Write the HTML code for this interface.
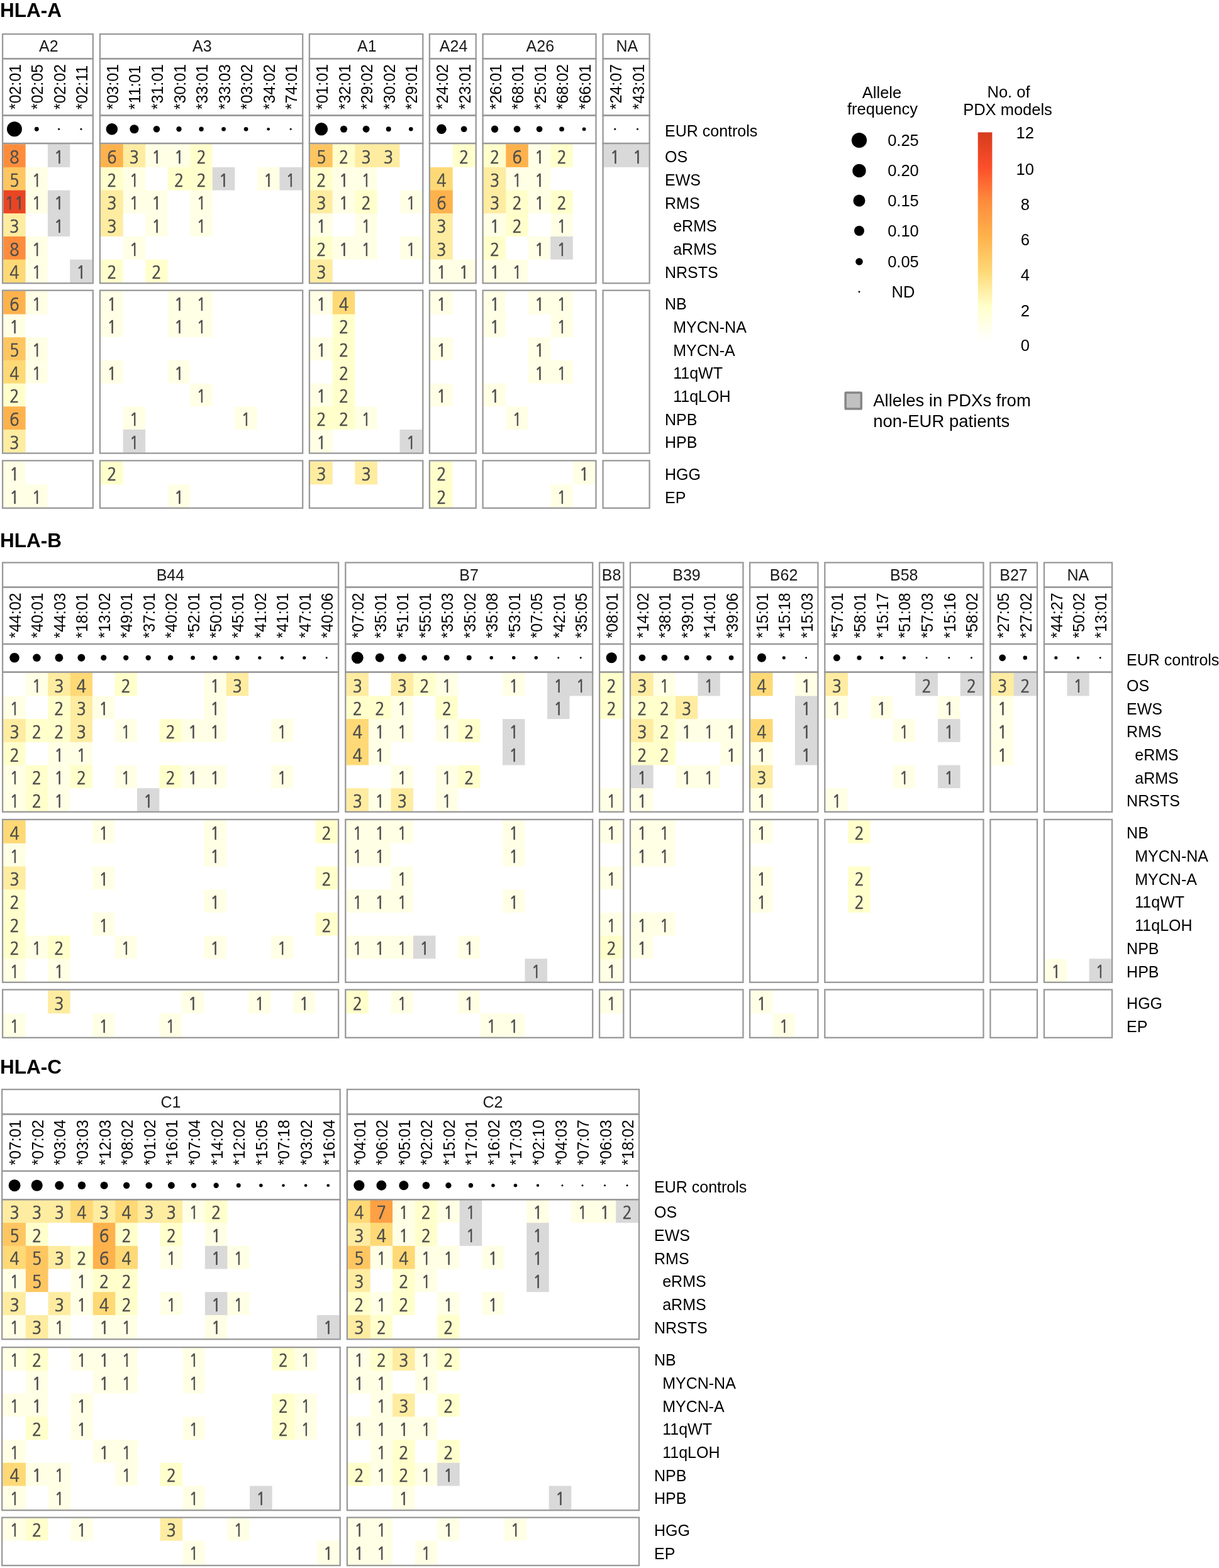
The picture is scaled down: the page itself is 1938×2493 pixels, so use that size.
<!DOCTYPE html>
<html lang="en">
<head>
<meta charset="utf-8">
<title>HLA allele distribution in PDX models</title>
<style>
html,body{margin:0;padding:0;background:#fff;}
body{width:1938px;height:2493px;overflow:hidden;}
svg{display:block;font-family:"Liberation Sans",sans-serif;}
.ttl{font-weight:bold;font-size:31.5px;fill:#000;}
.bx rect{fill:none;stroke:#999999;stroke-width:2.3;}
.num text{font-family:"NanumGothic","Liberation Sans",sans-serif;font-size:27.8px;fill:#4d4d4d;stroke:#4d4d4d;stroke-width:0.7px;text-anchor:middle;}
.hd text{font-size:25px;fill:#1a1a1a;text-anchor:middle;}
.al text{font-size:25px;fill:#000;}
.rl text{font-size:25px;fill:#000;}
.dt circle{fill:#000;}
.lg text{font-size:25.5px;fill:#000;}
.lg text.c{text-anchor:middle;}
.lg text.big{font-size:27.5px;}
</style>
</head>
<body>
<svg width="1938" height="2493" viewBox="0 0 1938 2493">
<defs><linearGradient id="cb" x1="0" y1="0" x2="0" y2="1"><stop offset="0%" stop-color="#d63c1e"/><stop offset="16.67%" stop-color="#fc4e2a"/><stop offset="33.33%" stop-color="#fd8d3c"/><stop offset="50%" stop-color="#feb24c"/><stop offset="66.67%" stop-color="#fed976"/><stop offset="83.33%" stop-color="#ffffcc"/><stop offset="100%" stop-color="#ffffff"/></linearGradient></defs>
<rect x="0" y="0" width="1938" height="2493" fill="#ffffff"/>
<g>
<text class="ttl" x="0" y="26.9">HLA-A</text>
<rect x="5.3" y="229.2" width="35.33" height="37.38" fill="#fd8d3c"/>
<rect x="75.95" y="229.2" width="35.33" height="36.68" fill="#d9d9d9"/>
<rect x="5.3" y="265.88" width="36.03" height="37.38" fill="#fec661"/>
<rect x="40.62" y="265.88" width="35.33" height="37.38" fill="#ffffe6"/>
<rect x="5.3" y="302.56" width="36.03" height="37.38" fill="#e94524"/>
<rect x="40.62" y="302.56" width="36.03" height="36.68" fill="#ffffe6"/>
<rect x="75.95" y="302.56" width="35.33" height="37.38" fill="#d9d9d9"/>
<rect x="5.3" y="339.24" width="35.33" height="37.38" fill="#feeca1"/>
<rect x="75.95" y="339.24" width="35.33" height="36.68" fill="#d9d9d9"/>
<rect x="5.3" y="375.92" width="36.03" height="37.38" fill="#fd8d3c"/>
<rect x="40.62" y="375.92" width="35.33" height="37.38" fill="#ffffe6"/>
<rect x="5.3" y="412.6" width="36.03" height="36.7" fill="#fed976"/>
<rect x="40.62" y="412.6" width="35.33" height="36.7" fill="#ffffe6"/>
<rect x="111.28" y="412.6" width="35.33" height="36.7" fill="#d9d9d9"/>
<rect x="5.3" y="462.9" width="36.03" height="37.38" fill="#feb24c"/>
<rect x="40.62" y="462.9" width="35.33" height="36.68" fill="#ffffe6"/>
<rect x="5.3" y="499.58" width="35.33" height="37.38" fill="#ffffe6"/>
<rect x="5.3" y="536.26" width="36.03" height="37.38" fill="#fec661"/>
<rect x="40.62" y="536.26" width="35.33" height="37.38" fill="#ffffe6"/>
<rect x="5.3" y="572.94" width="36.03" height="37.38" fill="#fed976"/>
<rect x="40.62" y="572.94" width="35.33" height="36.68" fill="#ffffe6"/>
<rect x="5.3" y="609.62" width="35.33" height="37.38" fill="#ffffcc"/>
<rect x="5.3" y="646.3" width="35.33" height="37.38" fill="#feb24c"/>
<rect x="5.3" y="682.98" width="35.33" height="36.68" fill="#feeca1"/>
<rect x="5.3" y="733.6" width="35.33" height="37.38" fill="#ffffe6"/>
<rect x="5.3" y="770.28" width="36.03" height="36.68" fill="#ffffe6"/>
<rect x="40.62" y="770.28" width="35.33" height="36.68" fill="#ffffe6"/>
<rect x="160.1" y="229.2" width="36.24" height="37.38" fill="#feb24c"/>
<rect x="195.64" y="229.2" width="36.24" height="37.38" fill="#feeca1"/>
<rect x="231.19" y="229.2" width="36.24" height="36.68" fill="#ffffe6"/>
<rect x="266.73" y="229.2" width="36.24" height="37.38" fill="#ffffe6"/>
<rect x="302.28" y="229.2" width="35.54" height="37.38" fill="#ffffcc"/>
<rect x="160.1" y="265.88" width="36.24" height="37.38" fill="#ffffcc"/>
<rect x="195.64" y="265.88" width="35.54" height="37.38" fill="#ffffe6"/>
<rect x="266.73" y="265.88" width="36.24" height="36.68" fill="#ffffcc"/>
<rect x="302.28" y="265.88" width="36.24" height="37.38" fill="#ffffcc"/>
<rect x="337.82" y="265.88" width="35.54" height="36.68" fill="#d9d9d9"/>
<rect x="408.91" y="265.88" width="36.24" height="36.68" fill="#ffffe6"/>
<rect x="444.46" y="265.88" width="35.54" height="36.68" fill="#d9d9d9"/>
<rect x="160.1" y="302.56" width="36.24" height="37.38" fill="#feeca1"/>
<rect x="195.64" y="302.56" width="36.24" height="36.68" fill="#ffffe6"/>
<rect x="231.19" y="302.56" width="35.54" height="37.38" fill="#ffffe6"/>
<rect x="302.28" y="302.56" width="35.54" height="37.38" fill="#ffffe6"/>
<rect x="160.1" y="339.24" width="35.54" height="36.68" fill="#feeca1"/>
<rect x="231.19" y="339.24" width="35.54" height="36.68" fill="#ffffe6"/>
<rect x="302.28" y="339.24" width="35.54" height="36.68" fill="#ffffe6"/>
<rect x="195.64" y="375.92" width="35.54" height="36.68" fill="#ffffe6"/>
<rect x="160.1" y="412.6" width="35.54" height="36.7" fill="#ffffcc"/>
<rect x="231.19" y="412.6" width="35.54" height="36.7" fill="#ffffcc"/>
<rect x="160.1" y="462.9" width="35.54" height="37.38" fill="#ffffe6"/>
<rect x="266.73" y="462.9" width="36.24" height="37.38" fill="#ffffe6"/>
<rect x="302.28" y="462.9" width="35.54" height="37.38" fill="#ffffe6"/>
<rect x="160.1" y="499.58" width="35.54" height="36.68" fill="#ffffe6"/>
<rect x="266.73" y="499.58" width="36.24" height="36.68" fill="#ffffe6"/>
<rect x="302.28" y="499.58" width="35.54" height="36.68" fill="#ffffe6"/>
<rect x="160.1" y="572.94" width="35.54" height="36.68" fill="#ffffe6"/>
<rect x="266.73" y="572.94" width="35.54" height="36.68" fill="#ffffe6"/>
<rect x="302.28" y="609.62" width="35.54" height="36.68" fill="#ffffe6"/>
<rect x="195.64" y="646.3" width="35.54" height="37.38" fill="#ffffe6"/>
<rect x="373.37" y="646.3" width="35.54" height="36.68" fill="#ffffe6"/>
<rect x="195.64" y="682.98" width="35.54" height="36.68" fill="#d9d9d9"/>
<rect x="160.1" y="733.6" width="35.54" height="36.68" fill="#ffffcc"/>
<rect x="266.73" y="770.28" width="35.54" height="36.68" fill="#ffffe6"/>
<rect x="493.1" y="229.2" width="36.3" height="37.38" fill="#fec661"/>
<rect x="528.7" y="229.2" width="36.3" height="37.38" fill="#ffffcc"/>
<rect x="564.3" y="229.2" width="36.3" height="37.38" fill="#feeca1"/>
<rect x="599.9" y="229.2" width="35.6" height="36.68" fill="#feeca1"/>
<rect x="493.1" y="265.88" width="36.3" height="37.38" fill="#ffffcc"/>
<rect x="528.7" y="265.88" width="36.3" height="37.38" fill="#ffffe6"/>
<rect x="564.3" y="265.88" width="35.6" height="37.38" fill="#ffffe6"/>
<rect x="493.1" y="302.56" width="36.3" height="37.38" fill="#feeca1"/>
<rect x="528.7" y="302.56" width="36.3" height="36.68" fill="#ffffe6"/>
<rect x="564.3" y="302.56" width="35.6" height="37.38" fill="#ffffcc"/>
<rect x="635.5" y="302.56" width="35.6" height="36.68" fill="#ffffe6"/>
<rect x="493.1" y="339.24" width="35.6" height="37.38" fill="#ffffe6"/>
<rect x="564.3" y="339.24" width="35.6" height="37.38" fill="#ffffe6"/>
<rect x="493.1" y="375.92" width="36.3" height="37.38" fill="#ffffcc"/>
<rect x="528.7" y="375.92" width="36.3" height="36.68" fill="#ffffe6"/>
<rect x="564.3" y="375.92" width="35.6" height="36.68" fill="#ffffe6"/>
<rect x="635.5" y="375.92" width="35.6" height="36.68" fill="#ffffe6"/>
<rect x="493.1" y="412.6" width="35.6" height="36.7" fill="#feeca1"/>
<rect x="493.1" y="462.9" width="36.3" height="36.68" fill="#ffffe6"/>
<rect x="528.7" y="462.9" width="35.6" height="37.38" fill="#fed976"/>
<rect x="528.7" y="499.58" width="35.6" height="37.38" fill="#ffffcc"/>
<rect x="493.1" y="536.26" width="36.3" height="36.68" fill="#ffffe6"/>
<rect x="528.7" y="536.26" width="35.6" height="37.38" fill="#ffffcc"/>
<rect x="528.7" y="572.94" width="35.6" height="37.38" fill="#ffffcc"/>
<rect x="493.1" y="609.62" width="36.3" height="37.38" fill="#ffffe6"/>
<rect x="528.7" y="609.62" width="35.6" height="37.38" fill="#ffffcc"/>
<rect x="493.1" y="646.3" width="36.3" height="37.38" fill="#ffffcc"/>
<rect x="528.7" y="646.3" width="36.3" height="36.68" fill="#ffffcc"/>
<rect x="564.3" y="646.3" width="35.6" height="36.68" fill="#ffffe6"/>
<rect x="493.1" y="682.98" width="35.6" height="36.68" fill="#ffffe6"/>
<rect x="635.5" y="682.98" width="35.6" height="36.68" fill="#d9d9d9"/>
<rect x="493.1" y="733.6" width="35.6" height="36.68" fill="#feeca1"/>
<rect x="564.3" y="733.6" width="35.6" height="36.68" fill="#feeca1"/>
<rect x="719.8" y="229.2" width="35.7" height="36.68" fill="#ffffcc"/>
<rect x="684.1" y="265.88" width="35.7" height="37.38" fill="#fed976"/>
<rect x="684.1" y="302.56" width="35.7" height="37.38" fill="#feb24c"/>
<rect x="684.1" y="339.24" width="35.7" height="37.38" fill="#feeca1"/>
<rect x="684.1" y="375.92" width="35.7" height="37.38" fill="#feeca1"/>
<rect x="684.1" y="412.6" width="36.4" height="36.7" fill="#ffffe6"/>
<rect x="719.8" y="412.6" width="35.7" height="36.7" fill="#ffffe6"/>
<rect x="684.1" y="462.9" width="35.7" height="36.68" fill="#ffffe6"/>
<rect x="684.1" y="536.26" width="35.7" height="36.68" fill="#ffffe6"/>
<rect x="684.1" y="609.62" width="35.7" height="36.68" fill="#ffffe6"/>
<rect x="684.1" y="733.6" width="35.7" height="37.38" fill="#ffffcc"/>
<rect x="684.1" y="770.28" width="35.7" height="36.68" fill="#ffffcc"/>
<rect x="768.8" y="229.2" width="36.2" height="37.38" fill="#ffffcc"/>
<rect x="804.3" y="229.2" width="36.2" height="37.38" fill="#feb24c"/>
<rect x="839.8" y="229.2" width="36.2" height="37.38" fill="#ffffe6"/>
<rect x="875.3" y="229.2" width="35.5" height="36.68" fill="#ffffcc"/>
<rect x="768.8" y="265.88" width="36.2" height="37.38" fill="#feeca1"/>
<rect x="804.3" y="265.88" width="36.2" height="37.38" fill="#ffffe6"/>
<rect x="839.8" y="265.88" width="35.5" height="37.38" fill="#ffffe6"/>
<rect x="768.8" y="302.56" width="36.2" height="37.38" fill="#feeca1"/>
<rect x="804.3" y="302.56" width="36.2" height="37.38" fill="#ffffcc"/>
<rect x="839.8" y="302.56" width="36.2" height="36.68" fill="#ffffe6"/>
<rect x="875.3" y="302.56" width="35.5" height="37.38" fill="#ffffcc"/>
<rect x="768.8" y="339.24" width="36.2" height="37.38" fill="#ffffe6"/>
<rect x="804.3" y="339.24" width="35.5" height="36.68" fill="#ffffcc"/>
<rect x="875.3" y="339.24" width="35.5" height="37.38" fill="#ffffe6"/>
<rect x="768.8" y="375.92" width="35.5" height="37.38" fill="#ffffcc"/>
<rect x="839.8" y="375.92" width="36.2" height="36.68" fill="#ffffe6"/>
<rect x="875.3" y="375.92" width="35.5" height="36.68" fill="#d9d9d9"/>
<rect x="768.8" y="412.6" width="36.2" height="36.7" fill="#ffffe6"/>
<rect x="804.3" y="412.6" width="35.5" height="36.7" fill="#ffffe6"/>
<rect x="768.8" y="462.9" width="35.5" height="37.38" fill="#ffffe6"/>
<rect x="839.8" y="462.9" width="36.2" height="36.68" fill="#ffffe6"/>
<rect x="875.3" y="462.9" width="35.5" height="37.38" fill="#ffffe6"/>
<rect x="768.8" y="499.58" width="35.5" height="36.68" fill="#ffffe6"/>
<rect x="875.3" y="499.58" width="35.5" height="36.68" fill="#ffffe6"/>
<rect x="839.8" y="536.26" width="35.5" height="37.38" fill="#ffffe6"/>
<rect x="839.8" y="572.94" width="36.2" height="36.68" fill="#ffffe6"/>
<rect x="875.3" y="572.94" width="35.5" height="36.68" fill="#ffffe6"/>
<rect x="768.8" y="609.62" width="35.5" height="36.68" fill="#ffffe6"/>
<rect x="804.3" y="646.3" width="35.5" height="36.68" fill="#ffffe6"/>
<rect x="910.8" y="733.6" width="35.5" height="36.68" fill="#ffffe6"/>
<rect x="875.3" y="770.28" width="35.5" height="36.68" fill="#ffffe6"/>
<rect x="959.8" y="229.2" width="36.5" height="36.68" fill="#d9d9d9"/>
<rect x="995.6" y="229.2" width="35.8" height="36.68" fill="#d9d9d9"/>
<g class="bx">
<rect x="4.1" y="54.2" width="143.7" height="39.1"/>
<rect x="4.1" y="93.3" width="143.7" height="90.2"/>
<rect x="4.1" y="183.5" width="143.7" height="44.5"/>
<rect x="4.1" y="228" width="143.7" height="222.3"/>
<rect x="4.1" y="461.7" width="143.7" height="258.9"/>
<rect x="4.1" y="732.4" width="143.7" height="75.4"/>
<rect x="158.9" y="54.2" width="322.3" height="39.1"/>
<rect x="158.9" y="93.3" width="322.3" height="90.2"/>
<rect x="158.9" y="183.5" width="322.3" height="44.5"/>
<rect x="158.9" y="228" width="322.3" height="222.3"/>
<rect x="158.9" y="461.7" width="322.3" height="258.9"/>
<rect x="158.9" y="732.4" width="322.3" height="75.4"/>
<rect x="491.9" y="54.2" width="180.4" height="39.1"/>
<rect x="491.9" y="93.3" width="180.4" height="90.2"/>
<rect x="491.9" y="183.5" width="180.4" height="44.5"/>
<rect x="491.9" y="228" width="180.4" height="222.3"/>
<rect x="491.9" y="461.7" width="180.4" height="258.9"/>
<rect x="491.9" y="732.4" width="180.4" height="75.4"/>
<rect x="682.9" y="54.2" width="73.8" height="39.1"/>
<rect x="682.9" y="93.3" width="73.8" height="90.2"/>
<rect x="682.9" y="183.5" width="73.8" height="44.5"/>
<rect x="682.9" y="228" width="73.8" height="222.3"/>
<rect x="682.9" y="461.7" width="73.8" height="258.9"/>
<rect x="682.9" y="732.4" width="73.8" height="75.4"/>
<rect x="767.6" y="54.2" width="179.9" height="39.1"/>
<rect x="767.6" y="93.3" width="179.9" height="90.2"/>
<rect x="767.6" y="183.5" width="179.9" height="44.5"/>
<rect x="767.6" y="228" width="179.9" height="222.3"/>
<rect x="767.6" y="461.7" width="179.9" height="258.9"/>
<rect x="767.6" y="732.4" width="179.9" height="75.4"/>
<rect x="958.6" y="54.2" width="74" height="39.1"/>
<rect x="958.6" y="93.3" width="74" height="90.2"/>
<rect x="958.6" y="183.5" width="74" height="44.5"/>
<rect x="958.6" y="228" width="74" height="222.3"/>
<rect x="958.6" y="461.7" width="74" height="258.9"/>
<rect x="958.6" y="732.4" width="74" height="75.4"/>
</g>
<g class="num">
<text transform="translate(22.96 260.04) scale(0.905 1)">8</text>
<text transform="translate(93.61 260.04) scale(0.905 1)">1</text>
<text transform="translate(22.96 296.72) scale(0.905 1)">5</text>
<text transform="translate(58.29 296.72) scale(0.905 1)">1</text>
<text transform="translate(22.96 333.4) scale(0.905 1)">11</text>
<text transform="translate(58.29 333.4) scale(0.905 1)">1</text>
<text transform="translate(93.61 333.4) scale(0.905 1)">1</text>
<text transform="translate(22.96 370.08) scale(0.905 1)">3</text>
<text transform="translate(93.61 370.08) scale(0.905 1)">1</text>
<text transform="translate(22.96 406.76) scale(0.905 1)">8</text>
<text transform="translate(58.29 406.76) scale(0.905 1)">1</text>
<text transform="translate(22.96 443.44) scale(0.905 1)">4</text>
<text transform="translate(58.29 443.44) scale(0.905 1)">1</text>
<text transform="translate(128.94 443.44) scale(0.905 1)">1</text>
<text transform="translate(22.96 493.74) scale(0.905 1)">6</text>
<text transform="translate(58.29 493.74) scale(0.905 1)">1</text>
<text transform="translate(22.96 530.42) scale(0.905 1)">1</text>
<text transform="translate(22.96 567.1) scale(0.905 1)">5</text>
<text transform="translate(58.29 567.1) scale(0.905 1)">1</text>
<text transform="translate(22.96 603.78) scale(0.905 1)">4</text>
<text transform="translate(58.29 603.78) scale(0.905 1)">1</text>
<text transform="translate(22.96 640.46) scale(0.905 1)">2</text>
<text transform="translate(22.96 677.14) scale(0.905 1)">6</text>
<text transform="translate(22.96 713.82) scale(0.905 1)">3</text>
<text transform="translate(22.96 764.44) scale(0.905 1)">1</text>
<text transform="translate(22.96 801.12) scale(0.905 1)">1</text>
<text transform="translate(58.29 801.12) scale(0.905 1)">1</text>
<text transform="translate(177.87 260.04) scale(0.905 1)">6</text>
<text transform="translate(213.42 260.04) scale(0.905 1)">3</text>
<text transform="translate(248.96 260.04) scale(0.905 1)">1</text>
<text transform="translate(284.51 260.04) scale(0.905 1)">1</text>
<text transform="translate(320.05 260.04) scale(0.905 1)">2</text>
<text transform="translate(177.87 296.72) scale(0.905 1)">2</text>
<text transform="translate(213.42 296.72) scale(0.905 1)">1</text>
<text transform="translate(284.51 296.72) scale(0.905 1)">2</text>
<text transform="translate(320.05 296.72) scale(0.905 1)">2</text>
<text transform="translate(355.59 296.72) scale(0.905 1)">1</text>
<text transform="translate(426.68 296.72) scale(0.905 1)">1</text>
<text transform="translate(462.23 296.72) scale(0.905 1)">1</text>
<text transform="translate(177.87 333.4) scale(0.905 1)">3</text>
<text transform="translate(213.42 333.4) scale(0.905 1)">1</text>
<text transform="translate(248.96 333.4) scale(0.905 1)">1</text>
<text transform="translate(320.05 333.4) scale(0.905 1)">1</text>
<text transform="translate(177.87 370.08) scale(0.905 1)">3</text>
<text transform="translate(248.96 370.08) scale(0.905 1)">1</text>
<text transform="translate(320.05 370.08) scale(0.905 1)">1</text>
<text transform="translate(213.42 406.76) scale(0.905 1)">1</text>
<text transform="translate(177.87 443.44) scale(0.905 1)">2</text>
<text transform="translate(248.96 443.44) scale(0.905 1)">2</text>
<text transform="translate(177.87 493.74) scale(0.905 1)">1</text>
<text transform="translate(284.51 493.74) scale(0.905 1)">1</text>
<text transform="translate(320.05 493.74) scale(0.905 1)">1</text>
<text transform="translate(177.87 530.42) scale(0.905 1)">1</text>
<text transform="translate(284.51 530.42) scale(0.905 1)">1</text>
<text transform="translate(320.05 530.42) scale(0.905 1)">1</text>
<text transform="translate(177.87 603.78) scale(0.905 1)">1</text>
<text transform="translate(284.51 603.78) scale(0.905 1)">1</text>
<text transform="translate(320.05 640.46) scale(0.905 1)">1</text>
<text transform="translate(213.42 677.14) scale(0.905 1)">1</text>
<text transform="translate(391.14 677.14) scale(0.905 1)">1</text>
<text transform="translate(213.42 713.82) scale(0.905 1)">1</text>
<text transform="translate(177.87 764.44) scale(0.905 1)">2</text>
<text transform="translate(284.51 801.12) scale(0.905 1)">1</text>
<text transform="translate(510.9 260.04) scale(0.905 1)">5</text>
<text transform="translate(546.5 260.04) scale(0.905 1)">2</text>
<text transform="translate(582.1 260.04) scale(0.905 1)">3</text>
<text transform="translate(617.7 260.04) scale(0.905 1)">3</text>
<text transform="translate(510.9 296.72) scale(0.905 1)">2</text>
<text transform="translate(546.5 296.72) scale(0.905 1)">1</text>
<text transform="translate(582.1 296.72) scale(0.905 1)">1</text>
<text transform="translate(510.9 333.4) scale(0.905 1)">3</text>
<text transform="translate(546.5 333.4) scale(0.905 1)">1</text>
<text transform="translate(582.1 333.4) scale(0.905 1)">2</text>
<text transform="translate(653.3 333.4) scale(0.905 1)">1</text>
<text transform="translate(510.9 370.08) scale(0.905 1)">1</text>
<text transform="translate(582.1 370.08) scale(0.905 1)">1</text>
<text transform="translate(510.9 406.76) scale(0.905 1)">2</text>
<text transform="translate(546.5 406.76) scale(0.905 1)">1</text>
<text transform="translate(582.1 406.76) scale(0.905 1)">1</text>
<text transform="translate(653.3 406.76) scale(0.905 1)">1</text>
<text transform="translate(510.9 443.44) scale(0.905 1)">3</text>
<text transform="translate(510.9 493.74) scale(0.905 1)">1</text>
<text transform="translate(546.5 493.74) scale(0.905 1)">4</text>
<text transform="translate(546.5 530.42) scale(0.905 1)">2</text>
<text transform="translate(510.9 567.1) scale(0.905 1)">1</text>
<text transform="translate(546.5 567.1) scale(0.905 1)">2</text>
<text transform="translate(546.5 603.78) scale(0.905 1)">2</text>
<text transform="translate(510.9 640.46) scale(0.905 1)">1</text>
<text transform="translate(546.5 640.46) scale(0.905 1)">2</text>
<text transform="translate(510.9 677.14) scale(0.905 1)">2</text>
<text transform="translate(546.5 677.14) scale(0.905 1)">2</text>
<text transform="translate(582.1 677.14) scale(0.905 1)">1</text>
<text transform="translate(510.9 713.82) scale(0.905 1)">1</text>
<text transform="translate(653.3 713.82) scale(0.905 1)">1</text>
<text transform="translate(510.9 764.44) scale(0.905 1)">3</text>
<text transform="translate(582.1 764.44) scale(0.905 1)">3</text>
<text transform="translate(737.65 260.04) scale(0.905 1)">2</text>
<text transform="translate(701.95 296.72) scale(0.905 1)">4</text>
<text transform="translate(701.95 333.4) scale(0.905 1)">6</text>
<text transform="translate(701.95 370.08) scale(0.905 1)">3</text>
<text transform="translate(701.95 406.76) scale(0.905 1)">3</text>
<text transform="translate(701.95 443.44) scale(0.905 1)">1</text>
<text transform="translate(737.65 443.44) scale(0.905 1)">1</text>
<text transform="translate(701.95 493.74) scale(0.905 1)">1</text>
<text transform="translate(701.95 567.1) scale(0.905 1)">1</text>
<text transform="translate(701.95 640.46) scale(0.905 1)">1</text>
<text transform="translate(701.95 764.44) scale(0.905 1)">2</text>
<text transform="translate(701.95 801.12) scale(0.905 1)">2</text>
<text transform="translate(786.55 260.04) scale(0.905 1)">2</text>
<text transform="translate(822.05 260.04) scale(0.905 1)">6</text>
<text transform="translate(857.55 260.04) scale(0.905 1)">1</text>
<text transform="translate(893.05 260.04) scale(0.905 1)">2</text>
<text transform="translate(786.55 296.72) scale(0.905 1)">3</text>
<text transform="translate(822.05 296.72) scale(0.905 1)">1</text>
<text transform="translate(857.55 296.72) scale(0.905 1)">1</text>
<text transform="translate(786.55 333.4) scale(0.905 1)">3</text>
<text transform="translate(822.05 333.4) scale(0.905 1)">2</text>
<text transform="translate(857.55 333.4) scale(0.905 1)">1</text>
<text transform="translate(893.05 333.4) scale(0.905 1)">2</text>
<text transform="translate(786.55 370.08) scale(0.905 1)">1</text>
<text transform="translate(822.05 370.08) scale(0.905 1)">2</text>
<text transform="translate(893.05 370.08) scale(0.905 1)">1</text>
<text transform="translate(786.55 406.76) scale(0.905 1)">2</text>
<text transform="translate(857.55 406.76) scale(0.905 1)">1</text>
<text transform="translate(893.05 406.76) scale(0.905 1)">1</text>
<text transform="translate(786.55 443.44) scale(0.905 1)">1</text>
<text transform="translate(822.05 443.44) scale(0.905 1)">1</text>
<text transform="translate(786.55 493.74) scale(0.905 1)">1</text>
<text transform="translate(857.55 493.74) scale(0.905 1)">1</text>
<text transform="translate(893.05 493.74) scale(0.905 1)">1</text>
<text transform="translate(786.55 530.42) scale(0.905 1)">1</text>
<text transform="translate(893.05 530.42) scale(0.905 1)">1</text>
<text transform="translate(857.55 567.1) scale(0.905 1)">1</text>
<text transform="translate(857.55 603.78) scale(0.905 1)">1</text>
<text transform="translate(893.05 603.78) scale(0.905 1)">1</text>
<text transform="translate(786.55 640.46) scale(0.905 1)">1</text>
<text transform="translate(822.05 677.14) scale(0.905 1)">1</text>
<text transform="translate(928.55 764.44) scale(0.905 1)">1</text>
<text transform="translate(893.05 801.12) scale(0.905 1)">1</text>
<text transform="translate(977.7 260.04) scale(0.905 1)">1</text>
<text transform="translate(1013.5 260.04) scale(0.905 1)">1</text>
</g>
<g class="hd">
<text x="77.25" y="82.2">A2</text>
<text x="321.35" y="82.2">A3</text>
<text x="583.4" y="82.2">A1</text>
<text x="721.1" y="82.2">A24</text>
<text x="858.85" y="82.2">A26</text>
<text x="996.9" y="82.2">NA</text>
</g>
<g class="al">
<text transform="translate(32.96 174.3) rotate(-90)">*02:01</text>
<text transform="translate(68.29 174.3) rotate(-90)">*02:05</text>
<text transform="translate(103.61 174.3) rotate(-90)">*02:02</text>
<text transform="translate(138.94 174.3) rotate(-90)">*02:11</text>
<text transform="translate(187.87 174.3) rotate(-90)">*03:01</text>
<text transform="translate(223.42 174.3) rotate(-90)">*11:01</text>
<text transform="translate(258.96 174.3) rotate(-90)">*31:01</text>
<text transform="translate(294.51 174.3) rotate(-90)">*30:01</text>
<text transform="translate(330.05 174.3) rotate(-90)">*33:01</text>
<text transform="translate(365.59 174.3) rotate(-90)">*33:03</text>
<text transform="translate(401.14 174.3) rotate(-90)">*03:02</text>
<text transform="translate(436.68 174.3) rotate(-90)">*34:02</text>
<text transform="translate(472.23 174.3) rotate(-90)">*74:01</text>
<text transform="translate(520.9 174.3) rotate(-90)">*01:01</text>
<text transform="translate(556.5 174.3) rotate(-90)">*32:01</text>
<text transform="translate(592.1 174.3) rotate(-90)">*29:02</text>
<text transform="translate(627.7 174.3) rotate(-90)">*30:02</text>
<text transform="translate(663.3 174.3) rotate(-90)">*29:01</text>
<text transform="translate(711.95 174.3) rotate(-90)">*24:02</text>
<text transform="translate(747.65 174.3) rotate(-90)">*23:01</text>
<text transform="translate(796.55 174.3) rotate(-90)">*26:01</text>
<text transform="translate(832.05 174.3) rotate(-90)">*68:01</text>
<text transform="translate(867.55 174.3) rotate(-90)">*25:01</text>
<text transform="translate(903.05 174.3) rotate(-90)">*68:02</text>
<text transform="translate(938.55 174.3) rotate(-90)">*66:01</text>
<text transform="translate(987.7 174.3) rotate(-90)">*24:07</text>
<text transform="translate(1023.5 174.3) rotate(-90)">*43:01</text>
</g>
<g class="dt">
<circle cx="22.96" cy="205.25" r="11.95"/>
<circle cx="58.29" cy="205.25" r="3.45"/>
<circle cx="93.61" cy="205.25" r="1.5"/>
<circle cx="128.94" cy="205.25" r="1.5"/>
<circle cx="177.87" cy="205.25" r="9.25"/>
<circle cx="213.42" cy="205.25" r="7.05"/>
<circle cx="248.96" cy="205.25" r="5.25"/>
<circle cx="284.51" cy="205.25" r="4.15"/>
<circle cx="320.05" cy="205.25" r="3.65"/>
<circle cx="355.59" cy="205.25" r="3.35"/>
<circle cx="391.14" cy="205.25" r="3.35"/>
<circle cx="426.68" cy="205.25" r="2.35"/>
<circle cx="462.23" cy="205.25" r="1.5"/>
<circle cx="510.9" cy="205.25" r="10.25"/>
<circle cx="546.5" cy="205.25" r="5.55"/>
<circle cx="582.1" cy="205.25" r="5.45"/>
<circle cx="617.7" cy="205.25" r="3.95"/>
<circle cx="653.3" cy="205.25" r="3.25"/>
<circle cx="701.95" cy="205.25" r="7.75"/>
<circle cx="737.65" cy="205.25" r="4.85"/>
<circle cx="786.55" cy="205.25" r="5.65"/>
<circle cx="822.05" cy="205.25" r="5.35"/>
<circle cx="857.55" cy="205.25" r="4.85"/>
<circle cx="893.05" cy="205.25" r="3.85"/>
<circle cx="928.55" cy="205.25" r="2.85"/>
<circle cx="977.7" cy="205.25" r="1.5"/>
<circle cx="1013.5" cy="205.25" r="1.5"/>
</g>
<g class="rl">
<text x="1057" y="217.05">EUR controls</text>
<text x="1057" y="258.44">OS</text>
<text x="1057" y="295.12">EWS</text>
<text x="1057" y="331.8">RMS</text>
<text x="1070.2" y="368.48">eRMS</text>
<text x="1070.2" y="405.16">aRMS</text>
<text x="1057" y="441.84">NRSTS</text>
<text x="1057" y="492.14">NB</text>
<text x="1070.2" y="528.82">MYCN-NA</text>
<text x="1070.2" y="565.5">MYCN-A</text>
<text x="1070.2" y="602.18">11qWT</text>
<text x="1070.2" y="638.86">11qLOH</text>
<text x="1057" y="675.54">NPB</text>
<text x="1057" y="712.22">HPB</text>
<text x="1057" y="762.84">HGG</text>
<text x="1057" y="799.52">EP</text>
</g>
</g>
<g>
<text class="ttl" x="0" y="869.8">HLA-B</text>
<rect x="40.74" y="1069.8" width="36.14" height="36.68" fill="#ffffe6"/>
<rect x="76.18" y="1069.8" width="36.14" height="37.38" fill="#feeca1"/>
<rect x="111.62" y="1069.8" width="35.44" height="37.38" fill="#fed976"/>
<rect x="182.5" y="1069.8" width="35.44" height="36.68" fill="#ffffcc"/>
<rect x="324.26" y="1069.8" width="36.14" height="37.38" fill="#ffffe6"/>
<rect x="359.7" y="1069.8" width="35.44" height="36.68" fill="#feeca1"/>
<rect x="5.3" y="1106.48" width="35.44" height="37.38" fill="#ffffe6"/>
<rect x="76.18" y="1106.48" width="36.14" height="37.38" fill="#ffffcc"/>
<rect x="111.62" y="1106.48" width="36.14" height="37.38" fill="#feeca1"/>
<rect x="147.06" y="1106.48" width="35.44" height="36.68" fill="#ffffe6"/>
<rect x="324.26" y="1106.48" width="35.44" height="37.38" fill="#ffffe6"/>
<rect x="5.3" y="1143.16" width="36.14" height="37.38" fill="#feeca1"/>
<rect x="40.74" y="1143.16" width="36.14" height="36.68" fill="#ffffcc"/>
<rect x="76.18" y="1143.16" width="36.14" height="37.38" fill="#ffffcc"/>
<rect x="111.62" y="1143.16" width="35.44" height="37.38" fill="#feeca1"/>
<rect x="182.5" y="1143.16" width="35.44" height="36.68" fill="#ffffe6"/>
<rect x="253.38" y="1143.16" width="36.14" height="36.68" fill="#ffffcc"/>
<rect x="288.82" y="1143.16" width="36.14" height="36.68" fill="#ffffe6"/>
<rect x="324.26" y="1143.16" width="35.44" height="36.68" fill="#ffffe6"/>
<rect x="430.58" y="1143.16" width="35.44" height="36.68" fill="#ffffe6"/>
<rect x="5.3" y="1179.84" width="35.44" height="37.38" fill="#ffffcc"/>
<rect x="76.18" y="1179.84" width="36.14" height="37.38" fill="#ffffe6"/>
<rect x="111.62" y="1179.84" width="35.44" height="37.38" fill="#ffffe6"/>
<rect x="5.3" y="1216.52" width="36.14" height="37.38" fill="#ffffe6"/>
<rect x="40.74" y="1216.52" width="36.14" height="37.38" fill="#ffffcc"/>
<rect x="76.18" y="1216.52" width="36.14" height="37.38" fill="#ffffe6"/>
<rect x="111.62" y="1216.52" width="35.44" height="36.68" fill="#ffffcc"/>
<rect x="182.5" y="1216.52" width="35.44" height="36.68" fill="#ffffe6"/>
<rect x="253.38" y="1216.52" width="36.14" height="36.68" fill="#ffffcc"/>
<rect x="288.82" y="1216.52" width="36.14" height="36.68" fill="#ffffe6"/>
<rect x="324.26" y="1216.52" width="35.44" height="36.68" fill="#ffffe6"/>
<rect x="430.58" y="1216.52" width="35.44" height="36.68" fill="#ffffe6"/>
<rect x="5.3" y="1253.2" width="36.14" height="36.68" fill="#ffffe6"/>
<rect x="40.74" y="1253.2" width="36.14" height="36.68" fill="#ffffcc"/>
<rect x="76.18" y="1253.2" width="35.44" height="36.68" fill="#ffffe6"/>
<rect x="217.94" y="1253.2" width="35.44" height="36.68" fill="#d9d9d9"/>
<rect x="5.3" y="1304.2" width="35.44" height="37.38" fill="#fed976"/>
<rect x="147.06" y="1304.2" width="35.44" height="36.68" fill="#ffffe6"/>
<rect x="324.26" y="1304.2" width="35.44" height="37.38" fill="#ffffe6"/>
<rect x="501.46" y="1304.2" width="35.44" height="36.68" fill="#ffffcc"/>
<rect x="5.3" y="1340.88" width="35.44" height="37.38" fill="#ffffe6"/>
<rect x="324.26" y="1340.88" width="35.44" height="36.68" fill="#ffffe6"/>
<rect x="5.3" y="1377.56" width="35.44" height="37.38" fill="#feeca1"/>
<rect x="147.06" y="1377.56" width="35.44" height="36.68" fill="#ffffe6"/>
<rect x="501.46" y="1377.56" width="35.44" height="36.68" fill="#ffffcc"/>
<rect x="5.3" y="1414.24" width="35.44" height="37.38" fill="#ffffcc"/>
<rect x="324.26" y="1414.24" width="35.44" height="36.68" fill="#ffffe6"/>
<rect x="5.3" y="1450.92" width="35.44" height="37.38" fill="#ffffcc"/>
<rect x="147.06" y="1450.92" width="35.44" height="36.68" fill="#ffffe6"/>
<rect x="501.46" y="1450.92" width="35.44" height="36.68" fill="#ffffcc"/>
<rect x="5.3" y="1487.6" width="36.14" height="37.38" fill="#ffffcc"/>
<rect x="40.74" y="1487.6" width="36.14" height="36.68" fill="#ffffe6"/>
<rect x="76.18" y="1487.6" width="35.44" height="37.38" fill="#ffffcc"/>
<rect x="182.5" y="1487.6" width="35.44" height="36.68" fill="#ffffe6"/>
<rect x="324.26" y="1487.6" width="35.44" height="36.68" fill="#ffffe6"/>
<rect x="430.58" y="1487.6" width="35.44" height="36.68" fill="#ffffe6"/>
<rect x="5.3" y="1524.28" width="35.44" height="36.68" fill="#ffffe6"/>
<rect x="76.18" y="1524.28" width="35.44" height="36.68" fill="#ffffe6"/>
<rect x="76.18" y="1574.7" width="35.44" height="36.68" fill="#feeca1"/>
<rect x="288.82" y="1574.7" width="35.44" height="36.68" fill="#ffffe6"/>
<rect x="395.14" y="1574.7" width="35.44" height="36.68" fill="#ffffe6"/>
<rect x="466.02" y="1574.7" width="35.44" height="36.68" fill="#ffffe6"/>
<rect x="5.3" y="1611.38" width="35.44" height="37.42" fill="#ffffe6"/>
<rect x="147.06" y="1611.38" width="35.44" height="37.42" fill="#ffffe6"/>
<rect x="253.38" y="1611.38" width="35.44" height="37.42" fill="#ffffe6"/>
<rect x="550.5" y="1069.8" width="35.5" height="37.38" fill="#feeca1"/>
<rect x="621.5" y="1069.8" width="36.2" height="37.38" fill="#feeca1"/>
<rect x="657" y="1069.8" width="36.2" height="36.68" fill="#ffffcc"/>
<rect x="692.5" y="1069.8" width="35.5" height="37.38" fill="#ffffe6"/>
<rect x="799" y="1069.8" width="35.5" height="36.68" fill="#ffffe6"/>
<rect x="870" y="1069.8" width="36.2" height="37.38" fill="#d9d9d9"/>
<rect x="905.5" y="1069.8" width="35.5" height="36.68" fill="#d9d9d9"/>
<rect x="550.5" y="1106.48" width="36.2" height="37.38" fill="#ffffcc"/>
<rect x="586" y="1106.48" width="36.2" height="37.38" fill="#ffffcc"/>
<rect x="621.5" y="1106.48" width="35.5" height="37.38" fill="#ffffe6"/>
<rect x="692.5" y="1106.48" width="35.5" height="37.38" fill="#ffffcc"/>
<rect x="870" y="1106.48" width="35.5" height="36.68" fill="#d9d9d9"/>
<rect x="550.5" y="1143.16" width="36.2" height="37.38" fill="#fed976"/>
<rect x="586" y="1143.16" width="36.2" height="37.38" fill="#ffffe6"/>
<rect x="621.5" y="1143.16" width="35.5" height="36.68" fill="#ffffe6"/>
<rect x="692.5" y="1143.16" width="36.2" height="36.68" fill="#ffffe6"/>
<rect x="728" y="1143.16" width="35.5" height="36.68" fill="#ffffcc"/>
<rect x="799" y="1143.16" width="35.5" height="37.38" fill="#d9d9d9"/>
<rect x="550.5" y="1179.84" width="36.2" height="36.68" fill="#fed976"/>
<rect x="586" y="1179.84" width="35.5" height="36.68" fill="#ffffe6"/>
<rect x="799" y="1179.84" width="35.5" height="36.68" fill="#d9d9d9"/>
<rect x="621.5" y="1216.52" width="35.5" height="37.38" fill="#ffffe6"/>
<rect x="692.5" y="1216.52" width="36.2" height="37.38" fill="#ffffe6"/>
<rect x="728" y="1216.52" width="35.5" height="36.68" fill="#ffffcc"/>
<rect x="550.5" y="1253.2" width="36.2" height="36.68" fill="#feeca1"/>
<rect x="586" y="1253.2" width="36.2" height="36.68" fill="#ffffe6"/>
<rect x="621.5" y="1253.2" width="35.5" height="36.68" fill="#feeca1"/>
<rect x="692.5" y="1253.2" width="35.5" height="36.68" fill="#ffffe6"/>
<rect x="550.5" y="1304.2" width="36.2" height="37.38" fill="#ffffe6"/>
<rect x="586" y="1304.2" width="36.2" height="37.38" fill="#ffffe6"/>
<rect x="621.5" y="1304.2" width="35.5" height="36.68" fill="#ffffe6"/>
<rect x="799" y="1304.2" width="35.5" height="37.38" fill="#ffffe6"/>
<rect x="550.5" y="1340.88" width="36.2" height="36.68" fill="#ffffe6"/>
<rect x="586" y="1340.88" width="35.5" height="36.68" fill="#ffffe6"/>
<rect x="799" y="1340.88" width="35.5" height="36.68" fill="#ffffe6"/>
<rect x="621.5" y="1377.56" width="35.5" height="37.38" fill="#ffffe6"/>
<rect x="550.5" y="1414.24" width="36.2" height="36.68" fill="#ffffe6"/>
<rect x="586" y="1414.24" width="36.2" height="36.68" fill="#ffffe6"/>
<rect x="621.5" y="1414.24" width="35.5" height="36.68" fill="#ffffe6"/>
<rect x="799" y="1414.24" width="35.5" height="36.68" fill="#ffffe6"/>
<rect x="550.5" y="1487.6" width="36.2" height="36.68" fill="#ffffe6"/>
<rect x="586" y="1487.6" width="36.2" height="36.68" fill="#ffffe6"/>
<rect x="621.5" y="1487.6" width="36.2" height="36.68" fill="#ffffe6"/>
<rect x="657" y="1487.6" width="35.5" height="36.68" fill="#d9d9d9"/>
<rect x="728" y="1487.6" width="35.5" height="36.68" fill="#ffffe6"/>
<rect x="834.5" y="1524.28" width="35.5" height="36.68" fill="#d9d9d9"/>
<rect x="550.5" y="1574.7" width="35.5" height="36.68" fill="#ffffcc"/>
<rect x="621.5" y="1574.7" width="35.5" height="36.68" fill="#ffffe6"/>
<rect x="728" y="1574.7" width="35.5" height="36.68" fill="#ffffe6"/>
<rect x="763.5" y="1611.38" width="36.2" height="37.42" fill="#ffffe6"/>
<rect x="799" y="1611.38" width="35.5" height="37.42" fill="#ffffe6"/>
<rect x="954.3" y="1069.8" width="35.8" height="37.38" fill="#ffffcc"/>
<rect x="954.3" y="1106.48" width="35.8" height="36.68" fill="#ffffcc"/>
<rect x="954.3" y="1253.2" width="35.8" height="36.68" fill="#ffffe6"/>
<rect x="954.3" y="1304.2" width="35.8" height="36.68" fill="#ffffe6"/>
<rect x="954.3" y="1377.56" width="35.8" height="36.68" fill="#ffffe6"/>
<rect x="954.3" y="1450.92" width="35.8" height="37.38" fill="#ffffe6"/>
<rect x="954.3" y="1487.6" width="35.8" height="37.38" fill="#ffffcc"/>
<rect x="954.3" y="1524.28" width="35.8" height="36.68" fill="#ffffe6"/>
<rect x="954.3" y="1574.7" width="35.8" height="36.68" fill="#ffffe6"/>
<rect x="1003.2" y="1069.8" width="36.1" height="37.38" fill="#feeca1"/>
<rect x="1038.6" y="1069.8" width="35.4" height="37.38" fill="#ffffe6"/>
<rect x="1109.4" y="1069.8" width="35.4" height="36.68" fill="#d9d9d9"/>
<rect x="1003.2" y="1106.48" width="36.1" height="37.38" fill="#ffffcc"/>
<rect x="1038.6" y="1106.48" width="36.1" height="37.38" fill="#ffffcc"/>
<rect x="1074" y="1106.48" width="35.4" height="37.38" fill="#feeca1"/>
<rect x="1003.2" y="1143.16" width="36.1" height="37.38" fill="#feeca1"/>
<rect x="1038.6" y="1143.16" width="36.1" height="37.38" fill="#ffffcc"/>
<rect x="1074" y="1143.16" width="36.1" height="36.68" fill="#ffffe6"/>
<rect x="1109.4" y="1143.16" width="36.1" height="36.68" fill="#ffffe6"/>
<rect x="1144.8" y="1143.16" width="35.4" height="37.38" fill="#ffffe6"/>
<rect x="1003.2" y="1179.84" width="36.1" height="37.38" fill="#ffffcc"/>
<rect x="1038.6" y="1179.84" width="35.4" height="36.68" fill="#ffffcc"/>
<rect x="1144.8" y="1179.84" width="35.4" height="36.68" fill="#ffffe6"/>
<rect x="1003.2" y="1216.52" width="35.4" height="37.38" fill="#d9d9d9"/>
<rect x="1074" y="1216.52" width="36.1" height="36.68" fill="#ffffe6"/>
<rect x="1109.4" y="1216.52" width="35.4" height="36.68" fill="#ffffe6"/>
<rect x="1003.2" y="1253.2" width="35.4" height="36.68" fill="#ffffe6"/>
<rect x="1003.2" y="1304.2" width="36.1" height="37.38" fill="#ffffe6"/>
<rect x="1038.6" y="1304.2" width="35.4" height="37.38" fill="#ffffe6"/>
<rect x="1003.2" y="1340.88" width="36.1" height="36.68" fill="#ffffe6"/>
<rect x="1038.6" y="1340.88" width="35.4" height="36.68" fill="#ffffe6"/>
<rect x="1003.2" y="1450.92" width="36.1" height="37.38" fill="#ffffe6"/>
<rect x="1038.6" y="1450.92" width="35.4" height="36.68" fill="#ffffe6"/>
<rect x="1003.2" y="1487.6" width="35.4" height="36.68" fill="#ffffe6"/>
<rect x="1193.3" y="1069.8" width="35.3" height="36.68" fill="#fed976"/>
<rect x="1263.9" y="1069.8" width="35.3" height="37.38" fill="#ffffe6"/>
<rect x="1263.9" y="1106.48" width="35.3" height="37.38" fill="#d9d9d9"/>
<rect x="1193.3" y="1143.16" width="35.3" height="37.38" fill="#fed976"/>
<rect x="1263.9" y="1143.16" width="35.3" height="37.38" fill="#d9d9d9"/>
<rect x="1193.3" y="1179.84" width="35.3" height="37.38" fill="#ffffe6"/>
<rect x="1263.9" y="1179.84" width="35.3" height="36.68" fill="#d9d9d9"/>
<rect x="1193.3" y="1216.52" width="35.3" height="37.38" fill="#feeca1"/>
<rect x="1193.3" y="1253.2" width="35.3" height="36.68" fill="#ffffe6"/>
<rect x="1193.3" y="1304.2" width="35.3" height="36.68" fill="#ffffe6"/>
<rect x="1193.3" y="1377.56" width="35.3" height="37.38" fill="#ffffe6"/>
<rect x="1193.3" y="1414.24" width="35.3" height="36.68" fill="#ffffe6"/>
<rect x="1193.3" y="1574.7" width="35.3" height="36.68" fill="#ffffe6"/>
<rect x="1228.6" y="1611.38" width="35.3" height="37.42" fill="#ffffe6"/>
<rect x="1312.5" y="1069.8" width="35.69" height="37.38" fill="#feeca1"/>
<rect x="1455.24" y="1069.8" width="35.69" height="36.68" fill="#d9d9d9"/>
<rect x="1526.61" y="1069.8" width="35.69" height="36.68" fill="#d9d9d9"/>
<rect x="1312.5" y="1106.48" width="35.69" height="36.68" fill="#ffffe6"/>
<rect x="1383.87" y="1106.48" width="35.69" height="36.68" fill="#ffffe6"/>
<rect x="1490.93" y="1106.48" width="35.69" height="37.38" fill="#ffffe6"/>
<rect x="1419.56" y="1143.16" width="35.69" height="36.68" fill="#ffffe6"/>
<rect x="1490.93" y="1143.16" width="35.69" height="36.68" fill="#d9d9d9"/>
<rect x="1419.56" y="1216.52" width="35.69" height="36.68" fill="#ffffe6"/>
<rect x="1490.93" y="1216.52" width="35.69" height="36.68" fill="#d9d9d9"/>
<rect x="1312.5" y="1253.2" width="35.69" height="36.68" fill="#ffffe6"/>
<rect x="1348.19" y="1304.2" width="35.69" height="36.68" fill="#ffffcc"/>
<rect x="1348.19" y="1377.56" width="35.69" height="37.38" fill="#ffffcc"/>
<rect x="1348.19" y="1414.24" width="35.69" height="36.68" fill="#ffffcc"/>
<rect x="1575.6" y="1069.8" width="36.8" height="37.38" fill="#feeca1"/>
<rect x="1611.7" y="1069.8" width="36.1" height="36.68" fill="#d9d9d9"/>
<rect x="1575.6" y="1106.48" width="36.1" height="37.38" fill="#ffffe6"/>
<rect x="1575.6" y="1143.16" width="36.1" height="37.38" fill="#ffffe6"/>
<rect x="1575.6" y="1179.84" width="36.1" height="36.68" fill="#ffffe6"/>
<rect x="1696.4" y="1069.8" width="35.2" height="36.68" fill="#d9d9d9"/>
<rect x="1661.2" y="1524.28" width="35.2" height="36.68" fill="#ffffe6"/>
<rect x="1731.6" y="1524.28" width="35.2" height="36.68" fill="#d9d9d9"/>
<g class="bx">
<rect x="4.1" y="894.5" width="534" height="39.1"/>
<rect x="4.1" y="933.6" width="534" height="90.4"/>
<rect x="4.1" y="1024" width="534" height="44.6"/>
<rect x="4.1" y="1068.6" width="534" height="222.2"/>
<rect x="4.1" y="1303" width="534" height="258.8"/>
<rect x="4.1" y="1573.5" width="534" height="76.3"/>
<rect x="549.3" y="894.5" width="392.9" height="39.1"/>
<rect x="549.3" y="933.6" width="392.9" height="90.4"/>
<rect x="549.3" y="1024" width="392.9" height="44.6"/>
<rect x="549.3" y="1068.6" width="392.9" height="222.2"/>
<rect x="549.3" y="1303" width="392.9" height="258.8"/>
<rect x="549.3" y="1573.5" width="392.9" height="76.3"/>
<rect x="953.1" y="894.5" width="38.2" height="39.1"/>
<rect x="953.1" y="933.6" width="38.2" height="90.4"/>
<rect x="953.1" y="1024" width="38.2" height="44.6"/>
<rect x="953.1" y="1068.6" width="38.2" height="222.2"/>
<rect x="953.1" y="1303" width="38.2" height="258.8"/>
<rect x="953.1" y="1573.5" width="38.2" height="76.3"/>
<rect x="1002" y="894.5" width="179.4" height="39.1"/>
<rect x="1002" y="933.6" width="179.4" height="90.4"/>
<rect x="1002" y="1024" width="179.4" height="44.6"/>
<rect x="1002" y="1068.6" width="179.4" height="222.2"/>
<rect x="1002" y="1303" width="179.4" height="258.8"/>
<rect x="1002" y="1573.5" width="179.4" height="76.3"/>
<rect x="1192.1" y="894.5" width="108.3" height="39.1"/>
<rect x="1192.1" y="933.6" width="108.3" height="90.4"/>
<rect x="1192.1" y="1024" width="108.3" height="44.6"/>
<rect x="1192.1" y="1068.6" width="108.3" height="222.2"/>
<rect x="1192.1" y="1303" width="108.3" height="258.8"/>
<rect x="1192.1" y="1573.5" width="108.3" height="76.3"/>
<rect x="1311.3" y="894.5" width="252.2" height="39.1"/>
<rect x="1311.3" y="933.6" width="252.2" height="90.4"/>
<rect x="1311.3" y="1024" width="252.2" height="44.6"/>
<rect x="1311.3" y="1068.6" width="252.2" height="222.2"/>
<rect x="1311.3" y="1303" width="252.2" height="258.8"/>
<rect x="1311.3" y="1573.5" width="252.2" height="76.3"/>
<rect x="1574.4" y="894.5" width="74.6" height="39.1"/>
<rect x="1574.4" y="933.6" width="74.6" height="90.4"/>
<rect x="1574.4" y="1024" width="74.6" height="44.6"/>
<rect x="1574.4" y="1068.6" width="74.6" height="222.2"/>
<rect x="1574.4" y="1303" width="74.6" height="258.8"/>
<rect x="1574.4" y="1573.5" width="74.6" height="76.3"/>
<rect x="1660" y="894.5" width="108" height="39.1"/>
<rect x="1660" y="933.6" width="108" height="90.4"/>
<rect x="1660" y="1024" width="108" height="44.6"/>
<rect x="1660" y="1068.6" width="108" height="222.2"/>
<rect x="1660" y="1303" width="108" height="258.8"/>
<rect x="1660" y="1573.5" width="108" height="76.3"/>
</g>
<g class="num">
<text transform="translate(58.46 1100.64) scale(0.905 1)">1</text>
<text transform="translate(93.9 1100.64) scale(0.905 1)">3</text>
<text transform="translate(129.34 1100.64) scale(0.905 1)">4</text>
<text transform="translate(200.22 1100.64) scale(0.905 1)">2</text>
<text transform="translate(341.98 1100.64) scale(0.905 1)">1</text>
<text transform="translate(377.42 1100.64) scale(0.905 1)">3</text>
<text transform="translate(23.02 1137.32) scale(0.905 1)">1</text>
<text transform="translate(93.9 1137.32) scale(0.905 1)">2</text>
<text transform="translate(129.34 1137.32) scale(0.905 1)">3</text>
<text transform="translate(164.78 1137.32) scale(0.905 1)">1</text>
<text transform="translate(341.98 1137.32) scale(0.905 1)">1</text>
<text transform="translate(23.02 1174) scale(0.905 1)">3</text>
<text transform="translate(58.46 1174) scale(0.905 1)">2</text>
<text transform="translate(93.9 1174) scale(0.905 1)">2</text>
<text transform="translate(129.34 1174) scale(0.905 1)">3</text>
<text transform="translate(200.22 1174) scale(0.905 1)">1</text>
<text transform="translate(271.1 1174) scale(0.905 1)">2</text>
<text transform="translate(306.54 1174) scale(0.905 1)">1</text>
<text transform="translate(341.98 1174) scale(0.905 1)">1</text>
<text transform="translate(448.3 1174) scale(0.905 1)">1</text>
<text transform="translate(23.02 1210.68) scale(0.905 1)">2</text>
<text transform="translate(93.9 1210.68) scale(0.905 1)">1</text>
<text transform="translate(129.34 1210.68) scale(0.905 1)">1</text>
<text transform="translate(23.02 1247.36) scale(0.905 1)">1</text>
<text transform="translate(58.46 1247.36) scale(0.905 1)">2</text>
<text transform="translate(93.9 1247.36) scale(0.905 1)">1</text>
<text transform="translate(129.34 1247.36) scale(0.905 1)">2</text>
<text transform="translate(200.22 1247.36) scale(0.905 1)">1</text>
<text transform="translate(271.1 1247.36) scale(0.905 1)">2</text>
<text transform="translate(306.54 1247.36) scale(0.905 1)">1</text>
<text transform="translate(341.98 1247.36) scale(0.905 1)">1</text>
<text transform="translate(448.3 1247.36) scale(0.905 1)">1</text>
<text transform="translate(23.02 1284.04) scale(0.905 1)">1</text>
<text transform="translate(58.46 1284.04) scale(0.905 1)">2</text>
<text transform="translate(93.9 1284.04) scale(0.905 1)">1</text>
<text transform="translate(235.66 1284.04) scale(0.905 1)">1</text>
<text transform="translate(23.02 1335.04) scale(0.905 1)">4</text>
<text transform="translate(164.78 1335.04) scale(0.905 1)">1</text>
<text transform="translate(341.98 1335.04) scale(0.905 1)">1</text>
<text transform="translate(519.18 1335.04) scale(0.905 1)">2</text>
<text transform="translate(23.02 1371.72) scale(0.905 1)">1</text>
<text transform="translate(341.98 1371.72) scale(0.905 1)">1</text>
<text transform="translate(23.02 1408.4) scale(0.905 1)">3</text>
<text transform="translate(164.78 1408.4) scale(0.905 1)">1</text>
<text transform="translate(519.18 1408.4) scale(0.905 1)">2</text>
<text transform="translate(23.02 1445.08) scale(0.905 1)">2</text>
<text transform="translate(341.98 1445.08) scale(0.905 1)">1</text>
<text transform="translate(23.02 1481.76) scale(0.905 1)">2</text>
<text transform="translate(164.78 1481.76) scale(0.905 1)">1</text>
<text transform="translate(519.18 1481.76) scale(0.905 1)">2</text>
<text transform="translate(23.02 1518.44) scale(0.905 1)">2</text>
<text transform="translate(58.46 1518.44) scale(0.905 1)">1</text>
<text transform="translate(93.9 1518.44) scale(0.905 1)">2</text>
<text transform="translate(200.22 1518.44) scale(0.905 1)">1</text>
<text transform="translate(341.98 1518.44) scale(0.905 1)">1</text>
<text transform="translate(448.3 1518.44) scale(0.905 1)">1</text>
<text transform="translate(23.02 1555.12) scale(0.905 1)">1</text>
<text transform="translate(93.9 1555.12) scale(0.905 1)">1</text>
<text transform="translate(93.9 1605.54) scale(0.905 1)">3</text>
<text transform="translate(306.54 1605.54) scale(0.905 1)">1</text>
<text transform="translate(412.86 1605.54) scale(0.905 1)">1</text>
<text transform="translate(483.74 1605.54) scale(0.905 1)">1</text>
<text transform="translate(23.02 1642.22) scale(0.905 1)">1</text>
<text transform="translate(164.78 1642.22) scale(0.905 1)">1</text>
<text transform="translate(271.1 1642.22) scale(0.905 1)">1</text>
<text transform="translate(568.25 1100.64) scale(0.905 1)">3</text>
<text transform="translate(639.25 1100.64) scale(0.905 1)">3</text>
<text transform="translate(674.75 1100.64) scale(0.905 1)">2</text>
<text transform="translate(710.25 1100.64) scale(0.905 1)">1</text>
<text transform="translate(816.75 1100.64) scale(0.905 1)">1</text>
<text transform="translate(887.75 1100.64) scale(0.905 1)">1</text>
<text transform="translate(923.25 1100.64) scale(0.905 1)">1</text>
<text transform="translate(568.25 1137.32) scale(0.905 1)">2</text>
<text transform="translate(603.75 1137.32) scale(0.905 1)">2</text>
<text transform="translate(639.25 1137.32) scale(0.905 1)">1</text>
<text transform="translate(710.25 1137.32) scale(0.905 1)">2</text>
<text transform="translate(887.75 1137.32) scale(0.905 1)">1</text>
<text transform="translate(568.25 1174) scale(0.905 1)">4</text>
<text transform="translate(603.75 1174) scale(0.905 1)">1</text>
<text transform="translate(639.25 1174) scale(0.905 1)">1</text>
<text transform="translate(710.25 1174) scale(0.905 1)">1</text>
<text transform="translate(745.75 1174) scale(0.905 1)">2</text>
<text transform="translate(816.75 1174) scale(0.905 1)">1</text>
<text transform="translate(568.25 1210.68) scale(0.905 1)">4</text>
<text transform="translate(603.75 1210.68) scale(0.905 1)">1</text>
<text transform="translate(816.75 1210.68) scale(0.905 1)">1</text>
<text transform="translate(639.25 1247.36) scale(0.905 1)">1</text>
<text transform="translate(710.25 1247.36) scale(0.905 1)">1</text>
<text transform="translate(745.75 1247.36) scale(0.905 1)">2</text>
<text transform="translate(568.25 1284.04) scale(0.905 1)">3</text>
<text transform="translate(603.75 1284.04) scale(0.905 1)">1</text>
<text transform="translate(639.25 1284.04) scale(0.905 1)">3</text>
<text transform="translate(710.25 1284.04) scale(0.905 1)">1</text>
<text transform="translate(568.25 1335.04) scale(0.905 1)">1</text>
<text transform="translate(603.75 1335.04) scale(0.905 1)">1</text>
<text transform="translate(639.25 1335.04) scale(0.905 1)">1</text>
<text transform="translate(816.75 1335.04) scale(0.905 1)">1</text>
<text transform="translate(568.25 1371.72) scale(0.905 1)">1</text>
<text transform="translate(603.75 1371.72) scale(0.905 1)">1</text>
<text transform="translate(816.75 1371.72) scale(0.905 1)">1</text>
<text transform="translate(639.25 1408.4) scale(0.905 1)">1</text>
<text transform="translate(568.25 1445.08) scale(0.905 1)">1</text>
<text transform="translate(603.75 1445.08) scale(0.905 1)">1</text>
<text transform="translate(639.25 1445.08) scale(0.905 1)">1</text>
<text transform="translate(816.75 1445.08) scale(0.905 1)">1</text>
<text transform="translate(568.25 1518.44) scale(0.905 1)">1</text>
<text transform="translate(603.75 1518.44) scale(0.905 1)">1</text>
<text transform="translate(639.25 1518.44) scale(0.905 1)">1</text>
<text transform="translate(674.75 1518.44) scale(0.905 1)">1</text>
<text transform="translate(745.75 1518.44) scale(0.905 1)">1</text>
<text transform="translate(852.25 1555.12) scale(0.905 1)">1</text>
<text transform="translate(568.25 1605.54) scale(0.905 1)">2</text>
<text transform="translate(639.25 1605.54) scale(0.905 1)">1</text>
<text transform="translate(745.75 1605.54) scale(0.905 1)">1</text>
<text transform="translate(781.25 1642.22) scale(0.905 1)">1</text>
<text transform="translate(816.75 1642.22) scale(0.905 1)">1</text>
<text transform="translate(972.2 1100.64) scale(0.905 1)">2</text>
<text transform="translate(972.2 1137.32) scale(0.905 1)">2</text>
<text transform="translate(972.2 1284.04) scale(0.905 1)">1</text>
<text transform="translate(972.2 1335.04) scale(0.905 1)">1</text>
<text transform="translate(972.2 1408.4) scale(0.905 1)">1</text>
<text transform="translate(972.2 1481.76) scale(0.905 1)">1</text>
<text transform="translate(972.2 1518.44) scale(0.905 1)">2</text>
<text transform="translate(972.2 1555.12) scale(0.905 1)">1</text>
<text transform="translate(972.2 1605.54) scale(0.905 1)">1</text>
<text transform="translate(1020.9 1100.64) scale(0.905 1)">3</text>
<text transform="translate(1056.3 1100.64) scale(0.905 1)">1</text>
<text transform="translate(1127.1 1100.64) scale(0.905 1)">1</text>
<text transform="translate(1020.9 1137.32) scale(0.905 1)">2</text>
<text transform="translate(1056.3 1137.32) scale(0.905 1)">2</text>
<text transform="translate(1091.7 1137.32) scale(0.905 1)">3</text>
<text transform="translate(1020.9 1174) scale(0.905 1)">3</text>
<text transform="translate(1056.3 1174) scale(0.905 1)">2</text>
<text transform="translate(1091.7 1174) scale(0.905 1)">1</text>
<text transform="translate(1127.1 1174) scale(0.905 1)">1</text>
<text transform="translate(1162.5 1174) scale(0.905 1)">1</text>
<text transform="translate(1020.9 1210.68) scale(0.905 1)">2</text>
<text transform="translate(1056.3 1210.68) scale(0.905 1)">2</text>
<text transform="translate(1162.5 1210.68) scale(0.905 1)">1</text>
<text transform="translate(1020.9 1247.36) scale(0.905 1)">1</text>
<text transform="translate(1091.7 1247.36) scale(0.905 1)">1</text>
<text transform="translate(1127.1 1247.36) scale(0.905 1)">1</text>
<text transform="translate(1020.9 1284.04) scale(0.905 1)">1</text>
<text transform="translate(1020.9 1335.04) scale(0.905 1)">1</text>
<text transform="translate(1056.3 1335.04) scale(0.905 1)">1</text>
<text transform="translate(1020.9 1371.72) scale(0.905 1)">1</text>
<text transform="translate(1056.3 1371.72) scale(0.905 1)">1</text>
<text transform="translate(1020.9 1481.76) scale(0.905 1)">1</text>
<text transform="translate(1056.3 1481.76) scale(0.905 1)">1</text>
<text transform="translate(1020.9 1518.44) scale(0.905 1)">1</text>
<text transform="translate(1210.95 1100.64) scale(0.905 1)">4</text>
<text transform="translate(1281.55 1100.64) scale(0.905 1)">1</text>
<text transform="translate(1281.55 1137.32) scale(0.905 1)">1</text>
<text transform="translate(1210.95 1174) scale(0.905 1)">4</text>
<text transform="translate(1281.55 1174) scale(0.905 1)">1</text>
<text transform="translate(1210.95 1210.68) scale(0.905 1)">1</text>
<text transform="translate(1281.55 1210.68) scale(0.905 1)">1</text>
<text transform="translate(1210.95 1247.36) scale(0.905 1)">3</text>
<text transform="translate(1210.95 1284.04) scale(0.905 1)">1</text>
<text transform="translate(1210.95 1335.04) scale(0.905 1)">1</text>
<text transform="translate(1210.95 1408.4) scale(0.905 1)">1</text>
<text transform="translate(1210.95 1445.08) scale(0.905 1)">1</text>
<text transform="translate(1210.95 1605.54) scale(0.905 1)">1</text>
<text transform="translate(1246.25 1642.22) scale(0.905 1)">1</text>
<text transform="translate(1330.34 1100.64) scale(0.905 1)">3</text>
<text transform="translate(1473.09 1100.64) scale(0.905 1)">2</text>
<text transform="translate(1544.46 1100.64) scale(0.905 1)">2</text>
<text transform="translate(1330.34 1137.32) scale(0.905 1)">1</text>
<text transform="translate(1401.71 1137.32) scale(0.905 1)">1</text>
<text transform="translate(1508.77 1137.32) scale(0.905 1)">1</text>
<text transform="translate(1437.4 1174) scale(0.905 1)">1</text>
<text transform="translate(1508.77 1174) scale(0.905 1)">1</text>
<text transform="translate(1437.4 1247.36) scale(0.905 1)">1</text>
<text transform="translate(1508.77 1247.36) scale(0.905 1)">1</text>
<text transform="translate(1330.34 1284.04) scale(0.905 1)">1</text>
<text transform="translate(1366.03 1335.04) scale(0.905 1)">2</text>
<text transform="translate(1366.03 1408.4) scale(0.905 1)">2</text>
<text transform="translate(1366.03 1445.08) scale(0.905 1)">2</text>
<text transform="translate(1593.65 1100.64) scale(0.905 1)">3</text>
<text transform="translate(1629.75 1100.64) scale(0.905 1)">2</text>
<text transform="translate(1593.65 1137.32) scale(0.905 1)">1</text>
<text transform="translate(1593.65 1174) scale(0.905 1)">1</text>
<text transform="translate(1593.65 1210.68) scale(0.905 1)">1</text>
<text transform="translate(1714 1100.64) scale(0.905 1)">1</text>
<text transform="translate(1678.8 1555.12) scale(0.905 1)">1</text>
<text transform="translate(1749.2 1555.12) scale(0.905 1)">1</text>
</g>
<g class="hd">
<text x="270.9" y="922.8">B44</text>
<text x="745.55" y="922.8">B7</text>
<text x="972" y="922.8">B8</text>
<text x="1091.5" y="922.8">B39</text>
<text x="1246.05" y="922.8">B62</text>
<text x="1437.2" y="922.8">B58</text>
<text x="1611.5" y="922.8">B27</text>
<text x="1713.8" y="922.8">NA</text>
</g>
<g class="al">
<text transform="translate(33.02 1014.8) rotate(-90)">*44:02</text>
<text transform="translate(68.46 1014.8) rotate(-90)">*40:01</text>
<text transform="translate(103.9 1014.8) rotate(-90)">*44:03</text>
<text transform="translate(139.34 1014.8) rotate(-90)">*18:01</text>
<text transform="translate(174.78 1014.8) rotate(-90)">*13:02</text>
<text transform="translate(210.22 1014.8) rotate(-90)">*49:01</text>
<text transform="translate(245.66 1014.8) rotate(-90)">*37:01</text>
<text transform="translate(281.1 1014.8) rotate(-90)">*40:02</text>
<text transform="translate(316.54 1014.8) rotate(-90)">*52:01</text>
<text transform="translate(351.98 1014.8) rotate(-90)">*50:01</text>
<text transform="translate(387.42 1014.8) rotate(-90)">*45:01</text>
<text transform="translate(422.86 1014.8) rotate(-90)">*41:02</text>
<text transform="translate(458.3 1014.8) rotate(-90)">*41:01</text>
<text transform="translate(493.74 1014.8) rotate(-90)">*47:01</text>
<text transform="translate(529.18 1014.8) rotate(-90)">*40:06</text>
<text transform="translate(578.25 1014.8) rotate(-90)">*07:02</text>
<text transform="translate(613.75 1014.8) rotate(-90)">*35:01</text>
<text transform="translate(649.25 1014.8) rotate(-90)">*51:01</text>
<text transform="translate(684.75 1014.8) rotate(-90)">*55:01</text>
<text transform="translate(720.25 1014.8) rotate(-90)">*35:03</text>
<text transform="translate(755.75 1014.8) rotate(-90)">*35:02</text>
<text transform="translate(791.25 1014.8) rotate(-90)">*35:08</text>
<text transform="translate(826.75 1014.8) rotate(-90)">*53:01</text>
<text transform="translate(862.25 1014.8) rotate(-90)">*07:05</text>
<text transform="translate(897.75 1014.8) rotate(-90)">*42:01</text>
<text transform="translate(933.25 1014.8) rotate(-90)">*35:05</text>
<text transform="translate(982.2 1014.8) rotate(-90)">*08:01</text>
<text transform="translate(1030.9 1014.8) rotate(-90)">*14:02</text>
<text transform="translate(1066.3 1014.8) rotate(-90)">*38:01</text>
<text transform="translate(1101.7 1014.8) rotate(-90)">*39:01</text>
<text transform="translate(1137.1 1014.8) rotate(-90)">*14:01</text>
<text transform="translate(1172.5 1014.8) rotate(-90)">*39:06</text>
<text transform="translate(1220.95 1014.8) rotate(-90)">*15:01</text>
<text transform="translate(1256.25 1014.8) rotate(-90)">*15:18</text>
<text transform="translate(1291.55 1014.8) rotate(-90)">*15:03</text>
<text transform="translate(1340.34 1014.8) rotate(-90)">*57:01</text>
<text transform="translate(1376.03 1014.8) rotate(-90)">*58:01</text>
<text transform="translate(1411.71 1014.8) rotate(-90)">*15:17</text>
<text transform="translate(1447.4 1014.8) rotate(-90)">*51:08</text>
<text transform="translate(1483.09 1014.8) rotate(-90)">*57:03</text>
<text transform="translate(1518.77 1014.8) rotate(-90)">*15:16</text>
<text transform="translate(1554.46 1014.8) rotate(-90)">*58:02</text>
<text transform="translate(1603.65 1014.8) rotate(-90)">*27:05</text>
<text transform="translate(1639.75 1014.8) rotate(-90)">*27:02</text>
<text transform="translate(1688.8 1014.8) rotate(-90)">*44:27</text>
<text transform="translate(1724 1014.8) rotate(-90)">*50:02</text>
<text transform="translate(1759.2 1014.8) rotate(-90)">*13:01</text>
</g>
<g class="dt">
<circle cx="23.02" cy="1045.8" r="7.75"/>
<circle cx="58.46" cy="1045.8" r="6.25"/>
<circle cx="93.9" cy="1045.8" r="6.45"/>
<circle cx="129.34" cy="1045.8" r="5.95"/>
<circle cx="164.78" cy="1045.8" r="4.55"/>
<circle cx="200.22" cy="1045.8" r="4.15"/>
<circle cx="235.66" cy="1045.8" r="4.15"/>
<circle cx="271.1" cy="1045.8" r="4.25"/>
<circle cx="306.54" cy="1045.8" r="3.35"/>
<circle cx="341.98" cy="1045.8" r="3.65"/>
<circle cx="377.42" cy="1045.8" r="3.35"/>
<circle cx="412.86" cy="1045.8" r="2.65"/>
<circle cx="448.3" cy="1045.8" r="2.65"/>
<circle cx="483.74" cy="1045.8" r="2.65"/>
<circle cx="519.18" cy="1045.8" r="1.5"/>
<circle cx="568.25" cy="1045.8" r="9.45"/>
<circle cx="603.75" cy="1045.8" r="7.05"/>
<circle cx="639.25" cy="1045.8" r="6.55"/>
<circle cx="674.75" cy="1045.8" r="4.35"/>
<circle cx="710.25" cy="1045.8" r="4.55"/>
<circle cx="745.75" cy="1045.8" r="3.95"/>
<circle cx="781.25" cy="1045.8" r="2.75"/>
<circle cx="816.75" cy="1045.8" r="2.75"/>
<circle cx="852.25" cy="1045.8" r="2.75"/>
<circle cx="887.75" cy="1045.8" r="1.5"/>
<circle cx="923.25" cy="1045.8" r="1.5"/>
<circle cx="972.2" cy="1045.8" r="8.55"/>
<circle cx="1020.9" cy="1045.8" r="5.35"/>
<circle cx="1056.3" cy="1045.8" r="4.85"/>
<circle cx="1091.7" cy="1045.8" r="3.95"/>
<circle cx="1127.1" cy="1045.8" r="4.15"/>
<circle cx="1162.5" cy="1045.8" r="3.85"/>
<circle cx="1210.95" cy="1045.8" r="7.05"/>
<circle cx="1246.25" cy="1045.8" r="2.55"/>
<circle cx="1281.55" cy="1045.8" r="1.5"/>
<circle cx="1330.34" cy="1045.8" r="5.45"/>
<circle cx="1366.03" cy="1045.8" r="3.65"/>
<circle cx="1401.71" cy="1045.8" r="2.75"/>
<circle cx="1437.4" cy="1045.8" r="2.55"/>
<circle cx="1473.09" cy="1045.8" r="1.5"/>
<circle cx="1508.77" cy="1045.8" r="1.5"/>
<circle cx="1544.46" cy="1045.8" r="1.5"/>
<circle cx="1593.65" cy="1045.8" r="5.35"/>
<circle cx="1629.75" cy="1045.8" r="3.25"/>
<circle cx="1678.8" cy="1045.8" r="2.55"/>
<circle cx="1714" cy="1045.8" r="2.15"/>
<circle cx="1749.2" cy="1045.8" r="1.5"/>
</g>
<g class="rl">
<text x="1791.1" y="1058">EUR controls</text>
<text x="1791.1" y="1099.04">OS</text>
<text x="1791.1" y="1135.72">EWS</text>
<text x="1791.1" y="1172.4">RMS</text>
<text x="1804.3" y="1209.08">eRMS</text>
<text x="1804.3" y="1245.76">aRMS</text>
<text x="1791.1" y="1282.44">NRSTS</text>
<text x="1791.1" y="1333.44">NB</text>
<text x="1804.3" y="1370.12">MYCN-NA</text>
<text x="1804.3" y="1406.8">MYCN-A</text>
<text x="1804.3" y="1443.48">11qWT</text>
<text x="1804.3" y="1480.16">11qLOH</text>
<text x="1791.1" y="1516.84">NPB</text>
<text x="1791.1" y="1553.52">HPB</text>
<text x="1791.1" y="1603.94">HGG</text>
<text x="1791.1" y="1640.62">EP</text>
</g>
</g>
<g>
<text class="ttl" x="0" y="1707.3">HLA-C</text>
<rect x="4.4" y="1907.5" width="37.21" height="37.38" fill="#feeca1"/>
<rect x="40.91" y="1907.5" width="36.31" height="37.38" fill="#feeca1"/>
<rect x="76.53" y="1907.5" width="36.31" height="36.68" fill="#feeca1"/>
<rect x="112.14" y="1907.5" width="36.31" height="36.68" fill="#fed976"/>
<rect x="147.75" y="1907.5" width="36.31" height="37.38" fill="#feeca1"/>
<rect x="183.37" y="1907.5" width="36.31" height="37.38" fill="#fed976"/>
<rect x="218.98" y="1907.5" width="36.31" height="36.68" fill="#feeca1"/>
<rect x="254.59" y="1907.5" width="36.31" height="37.38" fill="#feeca1"/>
<rect x="290.21" y="1907.5" width="36.31" height="36.68" fill="#ffffe6"/>
<rect x="325.82" y="1907.5" width="35.61" height="37.38" fill="#ffffcc"/>
<rect x="4.4" y="1944.18" width="37.21" height="37.38" fill="#fec661"/>
<rect x="40.91" y="1944.18" width="35.61" height="37.38" fill="#ffffcc"/>
<rect x="147.75" y="1944.18" width="36.31" height="37.38" fill="#feb24c"/>
<rect x="183.37" y="1944.18" width="35.61" height="37.38" fill="#ffffcc"/>
<rect x="254.59" y="1944.18" width="35.61" height="37.38" fill="#ffffcc"/>
<rect x="325.82" y="1944.18" width="35.61" height="37.38" fill="#ffffe6"/>
<rect x="4.4" y="1980.86" width="37.21" height="37.38" fill="#fed976"/>
<rect x="40.91" y="1980.86" width="36.31" height="37.38" fill="#fec661"/>
<rect x="76.53" y="1980.86" width="36.31" height="36.68" fill="#feeca1"/>
<rect x="112.14" y="1980.86" width="36.31" height="37.38" fill="#ffffcc"/>
<rect x="147.75" y="1980.86" width="36.31" height="37.38" fill="#feb24c"/>
<rect x="183.37" y="1980.86" width="35.61" height="37.38" fill="#fed976"/>
<rect x="254.59" y="1980.86" width="35.61" height="36.68" fill="#ffffe6"/>
<rect x="325.82" y="1980.86" width="36.31" height="36.68" fill="#d9d9d9"/>
<rect x="361.43" y="1980.86" width="35.61" height="36.68" fill="#ffffe6"/>
<rect x="4.4" y="2017.54" width="37.21" height="37.38" fill="#ffffe6"/>
<rect x="40.91" y="2017.54" width="35.61" height="36.68" fill="#fec661"/>
<rect x="112.14" y="2017.54" width="36.31" height="37.38" fill="#ffffe6"/>
<rect x="147.75" y="2017.54" width="36.31" height="37.38" fill="#ffffcc"/>
<rect x="183.37" y="2017.54" width="35.61" height="37.38" fill="#ffffcc"/>
<rect x="4.4" y="2054.22" width="36.51" height="37.38" fill="#feeca1"/>
<rect x="76.53" y="2054.22" width="36.31" height="37.38" fill="#feeca1"/>
<rect x="112.14" y="2054.22" width="36.31" height="36.68" fill="#ffffe6"/>
<rect x="147.75" y="2054.22" width="36.31" height="37.38" fill="#fed976"/>
<rect x="183.37" y="2054.22" width="35.61" height="37.38" fill="#ffffcc"/>
<rect x="254.59" y="2054.22" width="35.61" height="36.68" fill="#ffffe6"/>
<rect x="325.82" y="2054.22" width="36.31" height="37.38" fill="#d9d9d9"/>
<rect x="361.43" y="2054.22" width="35.61" height="36.68" fill="#ffffe6"/>
<rect x="4.4" y="2090.9" width="37.21" height="37.4" fill="#ffffe6"/>
<rect x="40.91" y="2090.9" width="36.31" height="37.4" fill="#feeca1"/>
<rect x="76.53" y="2090.9" width="35.61" height="37.4" fill="#ffffe6"/>
<rect x="147.75" y="2090.9" width="36.31" height="37.4" fill="#ffffe6"/>
<rect x="183.37" y="2090.9" width="35.61" height="37.4" fill="#ffffe6"/>
<rect x="325.82" y="2090.9" width="35.61" height="37.4" fill="#ffffe6"/>
<rect x="503.89" y="2090.9" width="35.61" height="37.4" fill="#d9d9d9"/>
<rect x="4.4" y="2142.4" width="37.21" height="36.68" fill="#ffffe6"/>
<rect x="40.91" y="2142.4" width="35.61" height="37.38" fill="#ffffcc"/>
<rect x="112.14" y="2142.4" width="36.31" height="36.68" fill="#ffffe6"/>
<rect x="147.75" y="2142.4" width="36.31" height="37.38" fill="#ffffe6"/>
<rect x="183.37" y="2142.4" width="35.61" height="37.38" fill="#ffffe6"/>
<rect x="290.21" y="2142.4" width="35.61" height="37.38" fill="#ffffe6"/>
<rect x="432.66" y="2142.4" width="36.31" height="36.68" fill="#ffffcc"/>
<rect x="468.27" y="2142.4" width="35.61" height="36.68" fill="#ffffe6"/>
<rect x="40.91" y="2179.08" width="35.61" height="37.38" fill="#ffffe6"/>
<rect x="147.75" y="2179.08" width="36.31" height="36.68" fill="#ffffe6"/>
<rect x="183.37" y="2179.08" width="35.61" height="36.68" fill="#ffffe6"/>
<rect x="290.21" y="2179.08" width="35.61" height="36.68" fill="#ffffe6"/>
<rect x="4.4" y="2215.76" width="37.21" height="36.68" fill="#ffffe6"/>
<rect x="40.91" y="2215.76" width="35.61" height="37.38" fill="#ffffe6"/>
<rect x="112.14" y="2215.76" width="35.61" height="37.38" fill="#ffffe6"/>
<rect x="432.66" y="2215.76" width="36.31" height="37.38" fill="#ffffcc"/>
<rect x="468.27" y="2215.76" width="35.61" height="37.38" fill="#ffffe6"/>
<rect x="40.91" y="2252.44" width="35.61" height="36.68" fill="#ffffcc"/>
<rect x="112.14" y="2252.44" width="35.61" height="36.68" fill="#ffffe6"/>
<rect x="290.21" y="2252.44" width="35.61" height="36.68" fill="#ffffe6"/>
<rect x="432.66" y="2252.44" width="36.31" height="36.68" fill="#ffffcc"/>
<rect x="468.27" y="2252.44" width="35.61" height="36.68" fill="#ffffe6"/>
<rect x="4.4" y="2289.12" width="36.51" height="37.38" fill="#ffffe6"/>
<rect x="147.75" y="2289.12" width="36.31" height="36.68" fill="#ffffe6"/>
<rect x="183.37" y="2289.12" width="35.61" height="37.38" fill="#ffffe6"/>
<rect x="4.4" y="2325.8" width="37.21" height="37.38" fill="#fed976"/>
<rect x="40.91" y="2325.8" width="36.31" height="36.68" fill="#ffffe6"/>
<rect x="76.53" y="2325.8" width="35.61" height="37.38" fill="#ffffe6"/>
<rect x="183.37" y="2325.8" width="35.61" height="36.68" fill="#ffffe6"/>
<rect x="254.59" y="2325.8" width="35.61" height="36.68" fill="#ffffcc"/>
<rect x="4.4" y="2362.48" width="36.51" height="37.72" fill="#ffffe6"/>
<rect x="76.53" y="2362.48" width="35.61" height="37.72" fill="#ffffe6"/>
<rect x="290.21" y="2362.48" width="35.61" height="37.72" fill="#ffffe6"/>
<rect x="397.05" y="2362.48" width="35.61" height="37.72" fill="#d9d9d9"/>
<rect x="4.4" y="2413" width="37.21" height="36.68" fill="#ffffe6"/>
<rect x="40.91" y="2413" width="35.61" height="36.68" fill="#ffffcc"/>
<rect x="112.14" y="2413" width="35.61" height="36.68" fill="#ffffe6"/>
<rect x="254.59" y="2413" width="35.61" height="36.68" fill="#feeca1"/>
<rect x="361.43" y="2413" width="35.61" height="36.68" fill="#ffffe6"/>
<rect x="290.21" y="2449.68" width="35.61" height="38.32" fill="#ffffe6"/>
<rect x="503.89" y="2449.68" width="35.61" height="38.32" fill="#ffffe6"/>
<rect x="553.1" y="1907.5" width="36.22" height="37.38" fill="#fed976"/>
<rect x="588.62" y="1907.5" width="36.22" height="37.38" fill="#fea044"/>
<rect x="624.13" y="1907.5" width="36.22" height="37.38" fill="#ffffe6"/>
<rect x="659.65" y="1907.5" width="36.22" height="37.38" fill="#ffffcc"/>
<rect x="695.16" y="1907.5" width="36.22" height="36.68" fill="#ffffe6"/>
<rect x="730.68" y="1907.5" width="35.52" height="37.38" fill="#d9d9d9"/>
<rect x="837.22" y="1907.5" width="35.52" height="37.38" fill="#ffffe6"/>
<rect x="908.25" y="1907.5" width="36.22" height="36.68" fill="#ffffe6"/>
<rect x="943.77" y="1907.5" width="36.22" height="36.68" fill="#ffffe6"/>
<rect x="979.28" y="1907.5" width="35.52" height="36.68" fill="#d9d9d9"/>
<rect x="553.1" y="1944.18" width="36.22" height="37.38" fill="#feeca1"/>
<rect x="588.62" y="1944.18" width="36.22" height="37.38" fill="#fed976"/>
<rect x="624.13" y="1944.18" width="36.22" height="37.38" fill="#ffffe6"/>
<rect x="659.65" y="1944.18" width="35.52" height="37.38" fill="#ffffcc"/>
<rect x="730.68" y="1944.18" width="35.52" height="36.68" fill="#d9d9d9"/>
<rect x="837.22" y="1944.18" width="35.52" height="37.38" fill="#d9d9d9"/>
<rect x="553.1" y="1980.86" width="36.22" height="37.38" fill="#fec661"/>
<rect x="588.62" y="1980.86" width="36.22" height="36.68" fill="#ffffe6"/>
<rect x="624.13" y="1980.86" width="36.22" height="37.38" fill="#fed976"/>
<rect x="659.65" y="1980.86" width="36.22" height="37.38" fill="#ffffe6"/>
<rect x="695.16" y="1980.86" width="35.52" height="36.68" fill="#ffffe6"/>
<rect x="766.19" y="1980.86" width="35.52" height="36.68" fill="#ffffe6"/>
<rect x="837.22" y="1980.86" width="35.52" height="37.38" fill="#d9d9d9"/>
<rect x="553.1" y="2017.54" width="35.52" height="37.38" fill="#feeca1"/>
<rect x="624.13" y="2017.54" width="36.22" height="37.38" fill="#ffffcc"/>
<rect x="659.65" y="2017.54" width="35.52" height="36.68" fill="#ffffe6"/>
<rect x="837.22" y="2017.54" width="35.52" height="36.68" fill="#d9d9d9"/>
<rect x="553.1" y="2054.22" width="36.22" height="37.38" fill="#ffffcc"/>
<rect x="588.62" y="2054.22" width="36.22" height="37.38" fill="#ffffe6"/>
<rect x="624.13" y="2054.22" width="35.52" height="36.68" fill="#ffffcc"/>
<rect x="695.16" y="2054.22" width="35.52" height="37.38" fill="#ffffe6"/>
<rect x="766.19" y="2054.22" width="35.52" height="36.68" fill="#ffffe6"/>
<rect x="553.1" y="2090.9" width="36.22" height="37.4" fill="#feeca1"/>
<rect x="588.62" y="2090.9" width="35.52" height="37.4" fill="#ffffcc"/>
<rect x="695.16" y="2090.9" width="35.52" height="37.4" fill="#ffffcc"/>
<rect x="553.1" y="2142.4" width="36.22" height="37.38" fill="#ffffe6"/>
<rect x="588.62" y="2142.4" width="36.22" height="37.38" fill="#ffffcc"/>
<rect x="624.13" y="2142.4" width="36.22" height="36.68" fill="#feeca1"/>
<rect x="659.65" y="2142.4" width="36.22" height="37.38" fill="#ffffe6"/>
<rect x="695.16" y="2142.4" width="35.52" height="36.68" fill="#ffffcc"/>
<rect x="553.1" y="2179.08" width="36.22" height="36.68" fill="#ffffe6"/>
<rect x="588.62" y="2179.08" width="35.52" height="37.38" fill="#ffffe6"/>
<rect x="659.65" y="2179.08" width="35.52" height="36.68" fill="#ffffe6"/>
<rect x="588.62" y="2215.76" width="36.22" height="37.38" fill="#ffffe6"/>
<rect x="624.13" y="2215.76" width="35.52" height="37.38" fill="#feeca1"/>
<rect x="695.16" y="2215.76" width="35.52" height="36.68" fill="#ffffcc"/>
<rect x="553.1" y="2252.44" width="36.22" height="36.68" fill="#ffffe6"/>
<rect x="588.62" y="2252.44" width="36.22" height="37.38" fill="#ffffe6"/>
<rect x="624.13" y="2252.44" width="36.22" height="37.38" fill="#ffffe6"/>
<rect x="659.65" y="2252.44" width="35.52" height="36.68" fill="#ffffe6"/>
<rect x="588.62" y="2289.12" width="36.22" height="37.38" fill="#ffffe6"/>
<rect x="624.13" y="2289.12" width="35.52" height="37.38" fill="#ffffcc"/>
<rect x="695.16" y="2289.12" width="35.52" height="37.38" fill="#ffffcc"/>
<rect x="553.1" y="2325.8" width="36.22" height="36.68" fill="#ffffcc"/>
<rect x="588.62" y="2325.8" width="36.22" height="36.68" fill="#ffffe6"/>
<rect x="624.13" y="2325.8" width="36.22" height="37.38" fill="#ffffcc"/>
<rect x="659.65" y="2325.8" width="36.22" height="36.68" fill="#ffffe6"/>
<rect x="695.16" y="2325.8" width="35.52" height="36.68" fill="#d9d9d9"/>
<rect x="624.13" y="2362.48" width="35.52" height="37.72" fill="#ffffe6"/>
<rect x="872.74" y="2362.48" width="35.52" height="37.72" fill="#d9d9d9"/>
<rect x="553.1" y="2413" width="36.22" height="37.38" fill="#ffffe6"/>
<rect x="588.62" y="2413" width="35.52" height="37.38" fill="#ffffe6"/>
<rect x="695.16" y="2413" width="35.52" height="36.68" fill="#ffffe6"/>
<rect x="801.71" y="2413" width="35.52" height="36.68" fill="#ffffe6"/>
<rect x="553.1" y="2449.68" width="36.22" height="38.32" fill="#ffffe6"/>
<rect x="588.62" y="2449.68" width="35.52" height="38.32" fill="#ffffe6"/>
<rect x="659.65" y="2449.68" width="35.52" height="38.32" fill="#ffffe6"/>
<g class="bx">
<rect x="3.2" y="1732.1" width="537.5" height="39.4"/>
<rect x="3.2" y="1771.5" width="537.5" height="90.4"/>
<rect x="3.2" y="1861.9" width="537.5" height="45.3"/>
<rect x="3.2" y="1907.2" width="537.5" height="222.1"/>
<rect x="3.2" y="2142.1" width="537.5" height="259.1"/>
<rect x="3.2" y="2412.7" width="537.5" height="76.3"/>
<rect x="551.9" y="1732.1" width="464.1" height="39.4"/>
<rect x="551.9" y="1771.5" width="464.1" height="90.4"/>
<rect x="551.9" y="1861.9" width="464.1" height="45.3"/>
<rect x="551.9" y="1907.2" width="464.1" height="222.1"/>
<rect x="551.9" y="2142.1" width="464.1" height="259.1"/>
<rect x="551.9" y="2412.7" width="464.1" height="76.3"/>
</g>
<g class="num">
<text transform="translate(23.11 1937.94) scale(0.905 1)">3</text>
<text transform="translate(58.72 1937.94) scale(0.905 1)">3</text>
<text transform="translate(94.33 1937.94) scale(0.905 1)">3</text>
<text transform="translate(129.95 1937.94) scale(0.905 1)">4</text>
<text transform="translate(165.56 1937.94) scale(0.905 1)">3</text>
<text transform="translate(201.17 1937.94) scale(0.905 1)">4</text>
<text transform="translate(236.79 1937.94) scale(0.905 1)">3</text>
<text transform="translate(272.4 1937.94) scale(0.905 1)">3</text>
<text transform="translate(308.01 1937.94) scale(0.905 1)">1</text>
<text transform="translate(343.63 1937.94) scale(0.905 1)">2</text>
<text transform="translate(23.11 1974.62) scale(0.905 1)">5</text>
<text transform="translate(58.72 1974.62) scale(0.905 1)">2</text>
<text transform="translate(165.56 1974.62) scale(0.905 1)">6</text>
<text transform="translate(201.17 1974.62) scale(0.905 1)">2</text>
<text transform="translate(272.4 1974.62) scale(0.905 1)">2</text>
<text transform="translate(343.63 1974.62) scale(0.905 1)">1</text>
<text transform="translate(23.11 2011.3) scale(0.905 1)">4</text>
<text transform="translate(58.72 2011.3) scale(0.905 1)">5</text>
<text transform="translate(94.33 2011.3) scale(0.905 1)">3</text>
<text transform="translate(129.95 2011.3) scale(0.905 1)">2</text>
<text transform="translate(165.56 2011.3) scale(0.905 1)">6</text>
<text transform="translate(201.17 2011.3) scale(0.905 1)">4</text>
<text transform="translate(272.4 2011.3) scale(0.905 1)">1</text>
<text transform="translate(343.63 2011.3) scale(0.905 1)">1</text>
<text transform="translate(379.24 2011.3) scale(0.905 1)">1</text>
<text transform="translate(23.11 2047.98) scale(0.905 1)">1</text>
<text transform="translate(58.72 2047.98) scale(0.905 1)">5</text>
<text transform="translate(129.95 2047.98) scale(0.905 1)">1</text>
<text transform="translate(165.56 2047.98) scale(0.905 1)">2</text>
<text transform="translate(201.17 2047.98) scale(0.905 1)">2</text>
<text transform="translate(23.11 2084.66) scale(0.905 1)">3</text>
<text transform="translate(94.33 2084.66) scale(0.905 1)">3</text>
<text transform="translate(129.95 2084.66) scale(0.905 1)">1</text>
<text transform="translate(165.56 2084.66) scale(0.905 1)">4</text>
<text transform="translate(201.17 2084.66) scale(0.905 1)">2</text>
<text transform="translate(272.4 2084.66) scale(0.905 1)">1</text>
<text transform="translate(343.63 2084.66) scale(0.905 1)">1</text>
<text transform="translate(379.24 2084.66) scale(0.905 1)">1</text>
<text transform="translate(23.11 2121.34) scale(0.905 1)">1</text>
<text transform="translate(58.72 2121.34) scale(0.905 1)">3</text>
<text transform="translate(94.33 2121.34) scale(0.905 1)">1</text>
<text transform="translate(165.56 2121.34) scale(0.905 1)">1</text>
<text transform="translate(201.17 2121.34) scale(0.905 1)">1</text>
<text transform="translate(343.63 2121.34) scale(0.905 1)">1</text>
<text transform="translate(521.69 2121.34) scale(0.905 1)">1</text>
<text transform="translate(23.11 2172.84) scale(0.905 1)">1</text>
<text transform="translate(58.72 2172.84) scale(0.905 1)">2</text>
<text transform="translate(129.95 2172.84) scale(0.905 1)">1</text>
<text transform="translate(165.56 2172.84) scale(0.905 1)">1</text>
<text transform="translate(201.17 2172.84) scale(0.905 1)">1</text>
<text transform="translate(308.01 2172.84) scale(0.905 1)">1</text>
<text transform="translate(450.47 2172.84) scale(0.905 1)">2</text>
<text transform="translate(486.08 2172.84) scale(0.905 1)">1</text>
<text transform="translate(58.72 2209.52) scale(0.905 1)">1</text>
<text transform="translate(165.56 2209.52) scale(0.905 1)">1</text>
<text transform="translate(201.17 2209.52) scale(0.905 1)">1</text>
<text transform="translate(308.01 2209.52) scale(0.905 1)">1</text>
<text transform="translate(23.11 2246.2) scale(0.905 1)">1</text>
<text transform="translate(58.72 2246.2) scale(0.905 1)">1</text>
<text transform="translate(129.95 2246.2) scale(0.905 1)">1</text>
<text transform="translate(450.47 2246.2) scale(0.905 1)">2</text>
<text transform="translate(486.08 2246.2) scale(0.905 1)">1</text>
<text transform="translate(58.72 2282.88) scale(0.905 1)">2</text>
<text transform="translate(129.95 2282.88) scale(0.905 1)">1</text>
<text transform="translate(308.01 2282.88) scale(0.905 1)">1</text>
<text transform="translate(450.47 2282.88) scale(0.905 1)">2</text>
<text transform="translate(486.08 2282.88) scale(0.905 1)">1</text>
<text transform="translate(23.11 2319.56) scale(0.905 1)">1</text>
<text transform="translate(165.56 2319.56) scale(0.905 1)">1</text>
<text transform="translate(201.17 2319.56) scale(0.905 1)">1</text>
<text transform="translate(23.11 2356.24) scale(0.905 1)">4</text>
<text transform="translate(58.72 2356.24) scale(0.905 1)">1</text>
<text transform="translate(94.33 2356.24) scale(0.905 1)">1</text>
<text transform="translate(201.17 2356.24) scale(0.905 1)">1</text>
<text transform="translate(272.4 2356.24) scale(0.905 1)">2</text>
<text transform="translate(23.11 2392.92) scale(0.905 1)">1</text>
<text transform="translate(94.33 2392.92) scale(0.905 1)">1</text>
<text transform="translate(308.01 2392.92) scale(0.905 1)">1</text>
<text transform="translate(414.85 2392.92) scale(0.905 1)">1</text>
<text transform="translate(23.11 2443.44) scale(0.905 1)">1</text>
<text transform="translate(58.72 2443.44) scale(0.905 1)">2</text>
<text transform="translate(129.95 2443.44) scale(0.905 1)">1</text>
<text transform="translate(272.4 2443.44) scale(0.905 1)">3</text>
<text transform="translate(379.24 2443.44) scale(0.905 1)">1</text>
<text transform="translate(308.01 2480.12) scale(0.905 1)">1</text>
<text transform="translate(521.69 2480.12) scale(0.905 1)">1</text>
<text transform="translate(570.86 1937.94) scale(0.905 1)">4</text>
<text transform="translate(606.37 1937.94) scale(0.905 1)">7</text>
<text transform="translate(641.89 1937.94) scale(0.905 1)">1</text>
<text transform="translate(677.4 1937.94) scale(0.905 1)">2</text>
<text transform="translate(712.92 1937.94) scale(0.905 1)">1</text>
<text transform="translate(748.43 1937.94) scale(0.905 1)">1</text>
<text transform="translate(854.98 1937.94) scale(0.905 1)">1</text>
<text transform="translate(926.01 1937.94) scale(0.905 1)">1</text>
<text transform="translate(961.53 1937.94) scale(0.905 1)">1</text>
<text transform="translate(997.04 1937.94) scale(0.905 1)">2</text>
<text transform="translate(570.86 1974.62) scale(0.905 1)">3</text>
<text transform="translate(606.37 1974.62) scale(0.905 1)">4</text>
<text transform="translate(641.89 1974.62) scale(0.905 1)">1</text>
<text transform="translate(677.4 1974.62) scale(0.905 1)">2</text>
<text transform="translate(748.43 1974.62) scale(0.905 1)">1</text>
<text transform="translate(854.98 1974.62) scale(0.905 1)">1</text>
<text transform="translate(570.86 2011.3) scale(0.905 1)">5</text>
<text transform="translate(606.37 2011.3) scale(0.905 1)">1</text>
<text transform="translate(641.89 2011.3) scale(0.905 1)">4</text>
<text transform="translate(677.4 2011.3) scale(0.905 1)">1</text>
<text transform="translate(712.92 2011.3) scale(0.905 1)">1</text>
<text transform="translate(783.95 2011.3) scale(0.905 1)">1</text>
<text transform="translate(854.98 2011.3) scale(0.905 1)">1</text>
<text transform="translate(570.86 2047.98) scale(0.905 1)">3</text>
<text transform="translate(641.89 2047.98) scale(0.905 1)">2</text>
<text transform="translate(677.4 2047.98) scale(0.905 1)">1</text>
<text transform="translate(854.98 2047.98) scale(0.905 1)">1</text>
<text transform="translate(570.86 2084.66) scale(0.905 1)">2</text>
<text transform="translate(606.37 2084.66) scale(0.905 1)">1</text>
<text transform="translate(641.89 2084.66) scale(0.905 1)">2</text>
<text transform="translate(712.92 2084.66) scale(0.905 1)">1</text>
<text transform="translate(783.95 2084.66) scale(0.905 1)">1</text>
<text transform="translate(570.86 2121.34) scale(0.905 1)">3</text>
<text transform="translate(606.37 2121.34) scale(0.905 1)">2</text>
<text transform="translate(712.92 2121.34) scale(0.905 1)">2</text>
<text transform="translate(570.86 2172.84) scale(0.905 1)">1</text>
<text transform="translate(606.37 2172.84) scale(0.905 1)">2</text>
<text transform="translate(641.89 2172.84) scale(0.905 1)">3</text>
<text transform="translate(677.4 2172.84) scale(0.905 1)">1</text>
<text transform="translate(712.92 2172.84) scale(0.905 1)">2</text>
<text transform="translate(570.86 2209.52) scale(0.905 1)">1</text>
<text transform="translate(606.37 2209.52) scale(0.905 1)">1</text>
<text transform="translate(677.4 2209.52) scale(0.905 1)">1</text>
<text transform="translate(606.37 2246.2) scale(0.905 1)">1</text>
<text transform="translate(641.89 2246.2) scale(0.905 1)">3</text>
<text transform="translate(712.92 2246.2) scale(0.905 1)">2</text>
<text transform="translate(570.86 2282.88) scale(0.905 1)">1</text>
<text transform="translate(606.37 2282.88) scale(0.905 1)">1</text>
<text transform="translate(641.89 2282.88) scale(0.905 1)">1</text>
<text transform="translate(677.4 2282.88) scale(0.905 1)">1</text>
<text transform="translate(606.37 2319.56) scale(0.905 1)">1</text>
<text transform="translate(641.89 2319.56) scale(0.905 1)">2</text>
<text transform="translate(712.92 2319.56) scale(0.905 1)">2</text>
<text transform="translate(570.86 2356.24) scale(0.905 1)">2</text>
<text transform="translate(606.37 2356.24) scale(0.905 1)">1</text>
<text transform="translate(641.89 2356.24) scale(0.905 1)">2</text>
<text transform="translate(677.4 2356.24) scale(0.905 1)">1</text>
<text transform="translate(712.92 2356.24) scale(0.905 1)">1</text>
<text transform="translate(641.89 2392.92) scale(0.905 1)">1</text>
<text transform="translate(890.5 2392.92) scale(0.905 1)">1</text>
<text transform="translate(570.86 2443.44) scale(0.905 1)">1</text>
<text transform="translate(606.37 2443.44) scale(0.905 1)">1</text>
<text transform="translate(712.92 2443.44) scale(0.905 1)">1</text>
<text transform="translate(819.47 2443.44) scale(0.905 1)">1</text>
<text transform="translate(570.86 2480.12) scale(0.905 1)">1</text>
<text transform="translate(606.37 2480.12) scale(0.905 1)">1</text>
<text transform="translate(677.4 2480.12) scale(0.905 1)">1</text>
</g>
<g class="hd">
<text x="271.45" y="1761.31">C1</text>
<text x="783.45" y="1761.31">C2</text>
</g>
<g class="al">
<text transform="translate(33.11 1852.7) rotate(-90)">*07:01</text>
<text transform="translate(68.72 1852.7) rotate(-90)">*07:02</text>
<text transform="translate(104.33 1852.7) rotate(-90)">*03:04</text>
<text transform="translate(139.95 1852.7) rotate(-90)">*03:03</text>
<text transform="translate(175.56 1852.7) rotate(-90)">*12:03</text>
<text transform="translate(211.17 1852.7) rotate(-90)">*08:02</text>
<text transform="translate(246.79 1852.7) rotate(-90)">*01:02</text>
<text transform="translate(282.4 1852.7) rotate(-90)">*16:01</text>
<text transform="translate(318.01 1852.7) rotate(-90)">*07:04</text>
<text transform="translate(353.63 1852.7) rotate(-90)">*14:02</text>
<text transform="translate(389.24 1852.7) rotate(-90)">*12:02</text>
<text transform="translate(424.85 1852.7) rotate(-90)">*15:05</text>
<text transform="translate(460.47 1852.7) rotate(-90)">*07:18</text>
<text transform="translate(496.08 1852.7) rotate(-90)">*03:02</text>
<text transform="translate(531.69 1852.7) rotate(-90)">*16:04</text>
<text transform="translate(580.86 1852.7) rotate(-90)">*04:01</text>
<text transform="translate(616.37 1852.7) rotate(-90)">*06:02</text>
<text transform="translate(651.89 1852.7) rotate(-90)">*05:01</text>
<text transform="translate(687.4 1852.7) rotate(-90)">*02:02</text>
<text transform="translate(722.92 1852.7) rotate(-90)">*15:02</text>
<text transform="translate(758.43 1852.7) rotate(-90)">*17:01</text>
<text transform="translate(793.95 1852.7) rotate(-90)">*16:02</text>
<text transform="translate(829.47 1852.7) rotate(-90)">*17:03</text>
<text transform="translate(864.98 1852.7) rotate(-90)">*02:10</text>
<text transform="translate(900.5 1852.7) rotate(-90)">*04:03</text>
<text transform="translate(936.01 1852.7) rotate(-90)">*07:07</text>
<text transform="translate(971.53 1852.7) rotate(-90)">*06:03</text>
<text transform="translate(1007.04 1852.7) rotate(-90)">*18:02</text>
</g>
<g class="dt">
<circle cx="23.11" cy="1884.75" r="9.45"/>
<circle cx="58.72" cy="1884.75" r="9.05"/>
<circle cx="94.33" cy="1884.75" r="7.05"/>
<circle cx="129.95" cy="1884.75" r="6.25"/>
<circle cx="165.56" cy="1884.75" r="6.05"/>
<circle cx="201.17" cy="1884.75" r="5.15"/>
<circle cx="236.79" cy="1884.75" r="5.35"/>
<circle cx="272.4" cy="1884.75" r="5.45"/>
<circle cx="308.01" cy="1884.75" r="4.15"/>
<circle cx="343.63" cy="1884.75" r="4.15"/>
<circle cx="379.24" cy="1884.75" r="3.45"/>
<circle cx="414.85" cy="1884.75" r="2.75"/>
<circle cx="450.47" cy="1884.75" r="2.25"/>
<circle cx="486.08" cy="1884.75" r="2.35"/>
<circle cx="521.69" cy="1884.75" r="2.35"/>
<circle cx="570.86" cy="1884.75" r="8.55"/>
<circle cx="606.37" cy="1884.75" r="7.95"/>
<circle cx="641.89" cy="1884.75" r="7.55"/>
<circle cx="677.4" cy="1884.75" r="5.85"/>
<circle cx="712.92" cy="1884.75" r="4.65"/>
<circle cx="748.43" cy="1884.75" r="3.65"/>
<circle cx="783.95" cy="1884.75" r="2.75"/>
<circle cx="819.47" cy="1884.75" r="2.75"/>
<circle cx="854.98" cy="1884.75" r="2.15"/>
<circle cx="894" cy="1884.75" r="1.5"/>
<circle cx="926.01" cy="1884.75" r="1.5"/>
<circle cx="961.53" cy="1884.75" r="1.5"/>
<circle cx="997.04" cy="1884.75" r="1.5"/>
</g>
<g class="rl">
<text x="1040" y="1896.15">EUR controls</text>
<text x="1040" y="1936.34">OS</text>
<text x="1040" y="1973.02">EWS</text>
<text x="1040" y="2009.7">RMS</text>
<text x="1053.2" y="2046.38">eRMS</text>
<text x="1053.2" y="2083.06">aRMS</text>
<text x="1040" y="2119.74">NRSTS</text>
<text x="1040" y="2171.24">NB</text>
<text x="1053.2" y="2207.92">MYCN-NA</text>
<text x="1053.2" y="2244.6">MYCN-A</text>
<text x="1053.2" y="2281.28">11qWT</text>
<text x="1053.2" y="2317.96">11qLOH</text>
<text x="1040" y="2354.64">NPB</text>
<text x="1040" y="2391.32">HPB</text>
<text x="1040" y="2441.84">HGG</text>
<text x="1040" y="2478.52">EP</text>
</g>
</g>
<g class="lg">
<text class="c" x="1402" y="155.6">Allele</text>
<text class="c" x="1403" y="182.2">frequency</text>
<circle cx="1366" cy="223" r="12.1"/>
<text class="c" x="1436" y="232">0.25</text>
<circle cx="1366" cy="271.4" r="10.7"/>
<text class="c" x="1436" y="280.4">0.20</text>
<circle cx="1366" cy="319" r="9.5"/>
<text class="c" x="1436" y="328">0.15</text>
<circle cx="1366" cy="367" r="8"/>
<text class="c" x="1436" y="376">0.10</text>
<circle cx="1366" cy="416" r="5.8"/>
<text class="c" x="1436" y="425">0.05</text>
<circle cx="1366" cy="464" r="1.4"/>
<text class="c" x="1436" y="473">ND</text>
<text class="c" x="1603.5" y="154.5">No. of</text>
<text class="c" x="1602" y="183.3">PDX models</text>
<rect x="1554.7" y="210.4" width="22.7" height="332.6" fill="url(#cb)"/>
<text class="c" x="1629.8" y="220.2">12</text>
<text class="c" x="1629.8" y="278.3">10</text>
<text class="c" x="1629.8" y="334.2">8</text>
<text class="c" x="1629.8" y="389.6">6</text>
<text class="c" x="1629.8" y="445.7">4</text>
<text class="c" x="1629.8" y="503.1">2</text>
<text class="c" x="1629.8" y="558.3">0</text>
<rect x="1344.15" y="624.35" width="25.1" height="25.6" rx="0.8" fill="#c1c1c1" stroke="#868686" stroke-width="3.5" stroke-linejoin="round"/>
<text class="big" x="1388.2" y="645.6">Alleles in PDXs from</text>
<text class="big" x="1388.2" y="678.9">non-EUR patients</text>
</g>
</svg>
</body>
</html>
